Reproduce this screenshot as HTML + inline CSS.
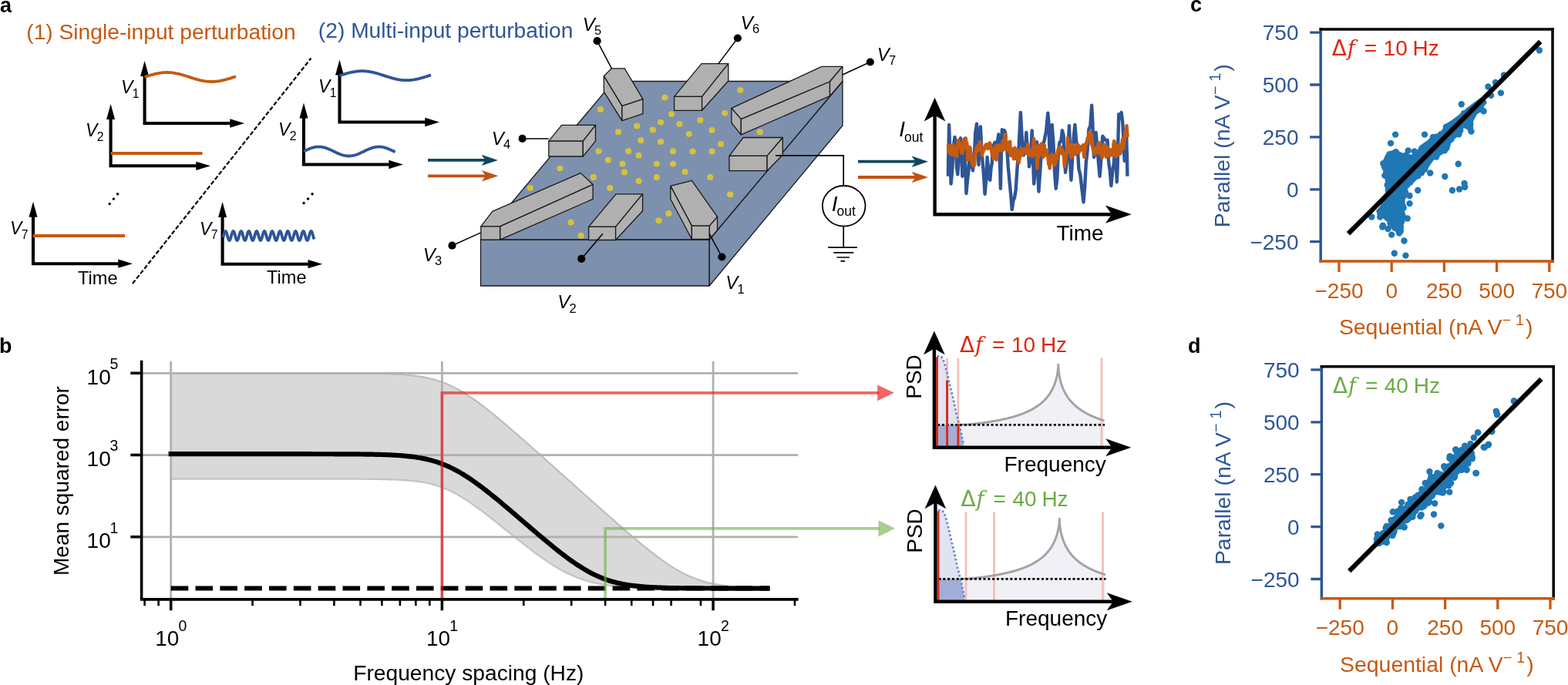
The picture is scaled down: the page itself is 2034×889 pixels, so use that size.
<!DOCTYPE html>
<html><head><meta charset="utf-8"><style>
html,body{margin:0;padding:0;background:#fff;width:2034px;height:889px;overflow:hidden}
svg{display:block}
</style></head><body>
<svg width="2034" height="889" viewBox="0 0 2034 889">
<rect width="2034" height="889" fill="#fff"/>
<text x="0" y="16" font-family="Liberation Sans, sans-serif" font-weight="bold" font-size="27">a</text>
<text x="-1" y="457.7" font-family="Liberation Sans, sans-serif" font-weight="bold" font-size="27">b</text>
<text x="1544" y="15.2" font-family="Liberation Sans, sans-serif" font-weight="bold" font-size="27">c</text>
<text x="1541" y="457.7" font-family="Liberation Sans, sans-serif" font-weight="bold" font-size="27">d</text>
<text x="34.25" y="50.7" font-family="Liberation Sans, sans-serif" font-size="28.2" fill="#C55A11">(1) Single-input perturbation</text>
<text x="412.85" y="48.9" font-family="Liberation Sans, sans-serif" font-size="28.2" fill="#2F5597">(2) Multi-input perturbation</text>
<path d="M187.6,98 L187.6,160 L299.3,160" fill="none" stroke="#000" stroke-width="4.1" stroke-linejoin="miter"/>
<path d="M187.6,79 L182.1,99 L193.1,99Z" fill="#000"/>
<path d="M317,160 L298.3,154.35 L298.3,165.65Z" fill="#000"/>
<path d="M187.60,100.00 L189.08,99.52 L190.56,99.04 L192.04,98.57 L193.52,98.11 L195.00,97.66 L196.48,97.22 L197.96,96.81 L199.44,96.41 L200.92,96.04 L202.40,95.69 L203.88,95.37 L205.36,95.08 L206.84,94.82 L208.32,94.59 L209.80,94.40 L211.28,94.25 L212.76,94.13 L214.24,94.05 L215.72,94.01 L217.20,94.00 L218.68,94.04 L220.16,94.11 L221.64,94.22 L223.12,94.37 L224.60,94.55 L226.08,94.77 L227.56,95.03 L229.04,95.31 L230.52,95.63 L232.00,95.97 L233.48,96.34 L234.96,96.73 L236.44,97.14 L237.92,97.58 L239.40,98.02 L240.88,98.48 L242.36,98.95 L243.84,99.43 L245.32,99.91 L246.80,100.39 L248.28,100.87 L249.76,101.34 L251.24,101.80 L252.72,102.26 L254.20,102.69 L255.68,103.12 L257.16,103.52 L258.64,103.89 L260.12,104.25 L261.60,104.57 L263.08,104.87 L264.56,105.13 L266.04,105.37 L267.52,105.56 L269.00,105.73 L270.48,105.85 L271.96,105.94 L273.44,105.99 L274.92,106.00 L276.40,105.97 L277.88,105.91 L279.36,105.80 L280.84,105.66 L282.32,105.48 L283.80,105.27 L285.28,105.02 L286.76,104.74 L288.24,104.44 L289.72,104.10 L291.20,103.73 L292.68,103.35 L294.16,102.94 L295.64,102.51 L297.12,102.06 L298.60,101.61 L300.08,101.14 L301.56,100.66 L303.04,100.18 L304.52,99.70 L306.00,99.22" fill="none" stroke="#C55A11" stroke-width="3.8"/>
<text x="157" y="121" font-family="Liberation Sans, sans-serif" font-size="23" fill="#000"><tspan font-style="italic">V</tspan><tspan font-size="15.8" dx="-0.5" dy="5.5">1</tspan></text>
<path d="M143.6,154 L143.6,215.3 L255.3,215.3" fill="none" stroke="#000" stroke-width="4.1" stroke-linejoin="miter"/>
<path d="M143.6,135 L138.1,155 L149.1,155Z" fill="#000"/>
<path d="M273,215.3 L254.3,209.65 L254.3,220.95000000000002Z" fill="#000"/>
<path d="M143.6,199 L262.5,199" fill="none" stroke="#C55A11" stroke-width="3.8"/>
<text x="111" y="177" font-family="Liberation Sans, sans-serif" font-size="23" fill="#000"><tspan font-style="italic">V</tspan><tspan font-size="15.8" dx="-0.5" dy="5.5">2</tspan></text>
<path d="M43,280.7 L43,342.2 L154.3,342.2" fill="none" stroke="#000" stroke-width="4.1" stroke-linejoin="miter"/>
<path d="M43,261.7 L37.5,281.7 L48.5,281.7Z" fill="#000"/>
<path d="M172,342.2 L153.3,336.55 L153.3,347.84999999999997Z" fill="#000"/>
<path d="M43,306 L162,306" fill="none" stroke="#C55A11" stroke-width="3.8"/>
<text x="13" y="304" font-family="Liberation Sans, sans-serif" font-size="23" fill="#000"><tspan font-style="italic">V</tspan><tspan font-size="15.8" dx="-0.5" dy="5.5">7</tspan></text>
<text x="101" y="369" font-family="Liberation Sans, sans-serif" font-size="23.6">Time</text>
<path d="M142.2,262.5 L144.29999999999998,264.6 L142.2,266.70000000000005 L140.1,264.6Z" fill="#000"/>
<path d="M147.4,256.09999999999997 L149.5,258.2 L147.4,260.3 L145.3,258.2Z" fill="#000"/>
<path d="M152.6,249.70000000000002 L154.7,251.8 L152.6,253.9 L150.5,251.8Z" fill="#000"/>
<path d="M440.5,96.6 L440.5,158.5 L552.3,158.5" fill="none" stroke="#000" stroke-width="4.1" stroke-linejoin="miter"/>
<path d="M440.5,77.6 L435.0,97.6 L446.0,97.6Z" fill="#000"/>
<path d="M570,158.5 L551.3,152.85 L551.3,164.15Z" fill="#000"/>
<path d="M440.50,98.20 L441.98,97.72 L443.46,97.24 L444.94,96.77 L446.43,96.31 L447.91,95.86 L449.39,95.42 L450.87,95.00 L452.35,94.61 L453.83,94.23 L455.31,93.89 L456.79,93.57 L458.27,93.28 L459.76,93.02 L461.24,92.79 L462.72,92.60 L464.20,92.45 L465.68,92.33 L467.16,92.25 L468.64,92.21 L470.12,92.20 L471.61,92.24 L473.09,92.31 L474.57,92.42 L476.05,92.57 L477.53,92.76 L479.01,92.98 L480.49,93.23 L481.98,93.52 L483.46,93.83 L484.94,94.18 L486.42,94.55 L487.90,94.94 L489.38,95.36 L490.86,95.79 L492.34,96.24 L493.82,96.70 L495.31,97.17 L496.79,97.64 L498.27,98.12 L499.75,98.61 L501.23,99.08 L502.71,99.56 L504.19,100.02 L505.68,100.47 L507.16,100.91 L508.64,101.33 L510.12,101.73 L511.60,102.11 L513.08,102.46 L514.56,102.79 L516.04,103.08 L517.52,103.35 L519.01,103.58 L520.49,103.77 L521.97,103.93 L523.45,104.06 L524.93,104.14 L526.41,104.19 L527.89,104.20 L529.38,104.17 L530.86,104.10 L532.34,104.00 L533.82,103.85 L535.30,103.67 L536.78,103.46 L538.26,103.21 L539.74,102.93 L541.23,102.62 L542.71,102.28 L544.19,101.91 L545.67,101.52 L547.15,101.11 L548.63,100.68 L550.11,100.23 L551.59,99.78 L553.08,99.31 L554.56,98.83 L556.04,98.35 L557.52,97.87 L559.00,97.39" fill="none" stroke="#2F5597" stroke-width="3.8"/>
<text x="413" y="120" font-family="Liberation Sans, sans-serif" font-size="23" fill="#000"><tspan font-style="italic">V</tspan><tspan font-size="15.8" dx="-0.5" dy="5.5">1</tspan></text>
<path d="M394,152.6 L394,213.5 L505.3,213.5" fill="none" stroke="#000" stroke-width="4.1" stroke-linejoin="miter"/>
<path d="M394,133.6 L388.5,153.6 L399.5,153.6Z" fill="#000"/>
<path d="M523,213.5 L504.3,207.85 L504.3,219.15Z" fill="#000"/>
<path d="M394.00,196.50 L395.48,195.79 L396.96,195.08 L398.45,194.40 L399.93,193.74 L401.41,193.13 L402.89,192.56 L404.38,192.05 L405.86,191.60 L407.34,191.22 L408.82,190.92 L410.31,190.70 L411.79,190.56 L413.27,190.50 L414.75,190.53 L416.24,190.65 L417.72,190.84 L419.20,191.12 L420.69,191.48 L422.17,191.90 L423.65,192.40 L425.13,192.95 L426.62,193.55 L428.10,194.19 L429.58,194.87 L431.06,195.57 L432.55,196.28 L434.03,197.00 L435.51,197.70 L436.99,198.40 L438.48,199.06 L439.96,199.69 L441.44,200.27 L442.92,200.80 L444.41,201.27 L445.89,201.67 L447.37,201.99 L448.85,202.24 L450.34,202.41 L451.82,202.49 L453.30,202.49 L454.78,202.40 L456.26,202.23 L457.75,201.97 L459.23,201.64 L460.71,201.23 L462.20,200.76 L463.68,200.23 L465.16,199.64 L466.64,199.01 L468.12,198.34 L469.61,197.65 L471.09,196.94 L472.57,196.22 L474.06,195.51 L475.54,194.81 L477.02,194.14 L478.50,193.50 L479.99,192.90 L481.47,192.35 L482.95,191.87 L484.43,191.45 L485.92,191.10 L487.40,190.82 L488.88,190.63 L490.36,190.53 L491.85,190.50 L493.33,190.56 L494.81,190.71 L496.29,190.94 L497.78,191.25 L499.26,191.63 L500.74,192.09 L502.22,192.60 L503.71,193.17 L505.19,193.79 L506.67,194.45 L508.15,195.14 L509.63,195.84 L511.12,196.56 L512.60,197.27" fill="none" stroke="#2F5597" stroke-width="3.8"/>
<text x="361" y="176" font-family="Liberation Sans, sans-serif" font-size="23" fill="#000"><tspan font-style="italic">V</tspan><tspan font-size="15.8" dx="-0.5" dy="5.5">2</tspan></text>
<path d="M288.6,281 L288.6,342.7 L400.5,342.7" fill="none" stroke="#000" stroke-width="4.1" stroke-linejoin="miter"/>
<path d="M288.6,262 L283.1,282 L294.1,282Z" fill="#000"/>
<path d="M418.2,342.7 L399.5,337.05 L399.5,348.34999999999997Z" fill="#000"/>
<path d="M289.40,308.10 L289.70,307.04 L289.99,305.94 L290.29,304.85 L290.58,303.79 L290.88,302.81 L291.17,301.94 L291.47,301.20 L291.76,300.62 L292.06,300.23 L292.35,300.03 L292.65,300.03 L292.94,300.23 L293.24,300.62 L293.53,301.20 L293.83,301.94 L294.12,302.81 L294.42,303.79 L294.71,304.85 L295.01,305.94 L295.30,307.04 L295.60,308.10 L295.90,309.09 L296.19,309.98 L296.49,310.73 L296.78,311.33 L297.08,311.74 L297.37,311.96 L297.67,311.98 L297.96,311.80 L298.26,311.43 L298.55,310.87 L298.85,310.15 L299.14,309.29 L299.44,308.31 L299.73,307.26 L300.03,306.17 L300.32,305.07 L300.62,304.01 L300.91,303.01 L301.21,302.11 L301.51,301.34 L301.80,300.73 L302.10,300.29 L302.39,300.05 L302.69,300.01 L302.98,300.17 L303.28,300.52 L303.57,301.06 L303.87,301.77 L304.16,302.62 L304.46,303.58 L304.75,304.62 L305.05,305.71 L305.34,306.81 L305.64,307.89 L305.93,308.89 L306.23,309.81 L306.52,310.59 L306.82,311.22 L307.12,311.67 L307.41,311.93 L307.71,312.00 L308.00,311.86 L308.30,311.52 L308.59,311.00 L308.89,310.31 L309.18,309.48 L309.48,308.52 L309.77,307.49 L310.07,306.40 L310.36,305.30 L310.66,304.22 L310.95,303.21 L311.25,302.28 L311.54,301.49 L311.84,300.84 L312.13,300.37 L312.43,300.08 L312.72,300.00 L313.02,300.12 L313.32,300.43 L313.61,300.94 L313.91,301.61 L314.20,302.43 L314.50,303.37 L314.79,304.40 L315.09,305.48 L315.38,306.59 L315.68,307.67 L315.97,308.69 L316.27,309.62 L316.56,310.44 L316.86,311.10 L317.15,311.59 L317.45,311.89 L317.74,312.00 L318.04,311.90 L318.33,311.61 L318.63,311.12 L318.92,310.47 L319.22,309.66 L319.52,308.73 L319.81,307.71 L320.11,306.63 L320.40,305.53 L320.70,304.44 L320.99,303.41 L321.29,302.47 L321.58,301.64 L321.88,300.96 L322.17,300.45 L322.47,300.13 L322.76,300.00 L323.06,300.08 L323.35,300.35 L323.65,300.82 L323.94,301.46 L324.24,302.25 L324.53,303.17 L324.83,304.18 L325.13,305.26 L325.42,306.36 L325.72,307.44 L326.01,308.48 L326.31,309.44 L326.60,310.28 L326.90,310.98 L327.19,311.50 L327.49,311.85 L327.78,311.99 L328.08,311.94 L328.37,311.69 L328.67,311.24 L328.96,310.62 L329.26,309.84 L329.55,308.93 L329.85,307.93 L330.14,306.86 L330.44,305.76 L330.74,304.67 L331.03,303.62 L331.33,302.66 L331.62,301.80 L331.92,301.09 L332.21,300.54 L332.51,300.18 L332.80,300.01 L333.10,300.05 L333.39,300.28 L333.69,300.71 L333.98,301.31 L334.28,302.07 L334.57,302.97 L334.87,303.96 L335.16,305.03 L335.46,306.13 L335.75,307.22 L336.05,308.27 L336.34,309.25 L336.64,310.12 L336.94,310.84 L337.23,311.41 L337.53,311.79 L337.82,311.98 L338.12,311.97 L338.41,311.75 L338.71,311.35 L339.00,310.76 L339.30,310.01 L339.59,309.13 L339.89,308.14 L340.18,307.08 L340.48,305.99 L340.77,304.89 L341.07,303.83 L341.36,302.85 L341.66,301.97 L341.95,301.22 L342.25,300.64 L342.54,300.24 L342.84,300.03 L343.14,300.02 L343.43,300.21 L343.73,300.60 L344.02,301.17 L344.32,301.90 L344.61,302.77 L344.91,303.75 L345.20,304.80 L345.50,305.90 L345.79,306.99 L346.09,308.06 L346.38,309.05 L346.68,309.95 L346.97,310.70 L347.27,311.31 L347.56,311.73 L347.86,311.96 L348.15,311.99 L348.45,311.82 L348.75,311.45 L349.04,310.90 L349.34,310.18 L349.63,309.32 L349.93,308.36 L350.22,307.31 L350.52,306.22 L350.81,305.12 L351.11,304.05 L351.40,303.05 L351.70,302.14 L351.99,301.37 L352.29,300.75 L352.58,300.31 L352.88,300.06 L353.17,300.01 L353.47,300.16 L353.76,300.51 L354.06,301.04 L354.36,301.74 L354.65,302.58 L354.95,303.54 L355.24,304.58 L355.54,305.67 L355.83,306.77 L356.13,307.84 L356.42,308.85 L356.72,309.77 L357.01,310.56 L357.31,311.19 L357.60,311.66 L357.90,311.93 L358.19,312.00 L358.49,311.87 L358.78,311.54 L359.08,311.03 L359.37,310.34 L359.67,309.51 L359.96,308.57 L360.26,307.53 L360.56,306.45 L360.85,305.35 L361.15,304.27 L361.44,303.25 L361.74,302.32 L362.03,301.52 L362.33,300.86 L362.62,300.38 L362.92,300.09 L363.21,300.00 L363.51,300.11 L363.80,300.42 L364.10,300.91 L364.39,301.58 L364.69,302.39 L364.98,303.33 L365.28,304.36 L365.57,305.44 L365.87,306.54 L366.16,307.62 L366.46,308.65 L366.76,309.59 L367.05,310.41 L367.35,311.08 L367.64,311.57 L367.94,311.89 L368.23,312.00 L368.53,311.91 L368.82,311.62 L369.12,311.15 L369.41,310.50 L369.71,309.70 L370.00,308.77 L370.30,307.75 L370.59,306.68 L370.89,305.57 L371.18,304.49 L371.48,303.45 L371.77,302.50 L372.07,301.67 L372.37,300.99 L372.66,300.47 L372.96,300.14 L373.25,300.00 L373.55,300.07 L373.84,300.34 L374.14,300.79 L374.43,301.43 L374.73,302.21 L375.02,303.13 L375.32,304.14 L375.61,305.21 L375.91,306.31 L376.20,307.40 L376.50,308.44 L376.79,309.40 L377.09,310.25 L377.38,310.95 L377.68,311.49 L377.98,311.84 L378.27,311.99 L378.57,311.95 L378.86,311.70 L379.16,311.26 L379.45,310.65 L379.75,309.87 L380.04,308.97 L380.34,307.97 L380.63,306.90 L380.93,305.80 L381.22,304.71 L381.52,303.66 L381.81,302.69 L382.11,301.83 L382.40,301.12 L382.70,300.56 L382.99,300.19 L383.29,300.01 L383.58,300.04 L383.88,300.27 L384.18,300.68 L384.47,301.28 L384.77,302.04 L385.06,302.93 L385.36,303.92 L385.65,304.98 L385.95,306.08 L386.24,307.18 L386.54,308.23 L386.83,309.21 L387.13,310.08 L387.42,310.82 L387.72,311.39 L388.01,311.78 L388.31,311.98 L388.60,311.97 L388.90,311.77 L389.19,311.37 L389.49,310.79 L389.78,310.05 L390.08,309.17 L390.38,308.19 L390.67,307.13 L390.97,306.03 L391.26,304.94 L391.56,303.88 L391.85,302.89 L392.15,302.00 L392.44,301.25 L392.74,300.66 L393.03,300.25 L393.33,300.03 L393.62,300.02 L393.92,300.20 L394.21,300.58 L394.51,301.14 L394.80,301.87 L395.10,302.73 L395.39,303.71 L395.69,304.76 L395.99,305.85 L396.28,306.95 L396.58,308.02 L396.87,309.01 L397.17,309.91 L397.46,310.68 L397.76,311.28 L398.05,311.71 L398.35,311.95 L398.64,311.99 L398.94,311.83 L399.23,311.47 L399.53,310.92 L399.82,310.21 L400.12,309.36 L400.41,308.40 L400.71,307.35 L401.00,306.26 L401.30,305.16 L401.60,304.09 L401.89,303.09 L402.19,302.18 L402.48,301.40 L402.78,300.77 L403.07,300.32 L403.37,300.06 L403.66,300.00 L403.96,300.15 L404.25,300.49 L404.55,301.01 L404.84,301.71 L405.14,302.54 L405.43,303.50 L405.73,304.53 L406.02,305.62 L406.32,306.72 L406.61,307.80 L406.91,308.81 L407.20,309.73 L407.50,310.53" fill="none" stroke="#2F5597" stroke-width="3.8"/>
<text x="259" y="304.6" font-family="Liberation Sans, sans-serif" font-size="23" fill="#000"><tspan font-style="italic">V</tspan><tspan font-size="15.8" dx="-0.5" dy="5.5">7</tspan></text>
<text x="346" y="368" font-family="Liberation Sans, sans-serif" font-size="23.6">Time</text>
<path d="M394.1,261.5 L396.20000000000005,263.6 L394.1,265.70000000000005 L392.0,263.6Z" fill="#000"/>
<path d="M399.6,256.0 L401.70000000000005,258.1 L399.6,260.20000000000005 L397.5,258.1Z" fill="#000"/>
<path d="M405.1,249.70000000000002 L407.20000000000005,251.8 L405.1,253.9 L403.0,251.8Z" fill="#000"/>
<path d="M172,368 L403.5,75.5" stroke="#000" stroke-width="2.2" stroke-dasharray="5.6,2.6" fill="none"/>
<polygon points="623.5,311 920.2,311 920.2,371 623.5,371" fill="#7D90AE" stroke="#1a1a1a" stroke-width="1.3" stroke-linejoin="round"/>
<polygon points="920.2,311 1093,105.5 1093,163 920.2,371" fill="#7D90AE" stroke="#1a1a1a" stroke-width="1.3" stroke-linejoin="round"/>
<polygon points="796,105.5 1093,105.5 920.2,311 623.5,311" fill="#7D90AE" stroke="#1a1a1a" stroke-width="1.3" stroke-linejoin="round"/>
<ellipse cx="779.0" cy="141.9" rx="4.1" ry="3.9" fill="#D4C23C"/>
<ellipse cx="862.4" cy="126.5" rx="4.1" ry="3.9" fill="#D4C23C"/>
<ellipse cx="871.0" cy="148.1" rx="4.1" ry="3.9" fill="#D4C23C"/>
<ellipse cx="857.0" cy="158.6" rx="4.1" ry="3.9" fill="#D4C23C"/>
<ellipse cx="881.4" cy="160.8" rx="4.1" ry="3.9" fill="#D4C23C"/>
<ellipse cx="826.1" cy="163.5" rx="4.1" ry="3.9" fill="#D4C23C"/>
<ellipse cx="846.8" cy="168.4" rx="4.1" ry="3.9" fill="#D4C23C"/>
<ellipse cx="802.1" cy="171.2" rx="4.1" ry="3.9" fill="#D4C23C"/>
<ellipse cx="893.8" cy="173.8" rx="4.1" ry="3.9" fill="#D4C23C"/>
<ellipse cx="831.3" cy="182.2" rx="4.1" ry="3.9" fill="#D4C23C"/>
<ellipse cx="857.0" cy="183.9" rx="4.1" ry="3.9" fill="#D4C23C"/>
<ellipse cx="776.5" cy="196.2" rx="4.1" ry="3.9" fill="#D4C23C"/>
<ellipse cx="815.3" cy="196.2" rx="4.1" ry="3.9" fill="#D4C23C"/>
<ellipse cx="873.0" cy="196.2" rx="4.1" ry="3.9" fill="#D4C23C"/>
<ellipse cx="898.5" cy="196.4" rx="4.1" ry="3.9" fill="#D4C23C"/>
<ellipse cx="828.6" cy="201.7" rx="4.1" ry="3.9" fill="#D4C23C"/>
<ellipse cx="788.9" cy="207.7" rx="4.1" ry="3.9" fill="#D4C23C"/>
<ellipse cx="807.5" cy="212.6" rx="4.1" ry="3.9" fill="#D4C23C"/>
<ellipse cx="851.9" cy="212.6" rx="4.1" ry="3.9" fill="#D4C23C"/>
<ellipse cx="873.0" cy="212.6" rx="4.1" ry="3.9" fill="#D4C23C"/>
<ellipse cx="726.3" cy="218.6" rx="4.1" ry="3.9" fill="#D4C23C"/>
<ellipse cx="810.0" cy="223.5" rx="4.1" ry="3.9" fill="#D4C23C"/>
<ellipse cx="888.7" cy="222.9" rx="4.1" ry="3.9" fill="#D4C23C"/>
<ellipse cx="769.7" cy="230" rx="4.1" ry="3.9" fill="#D4C23C"/>
<ellipse cx="851.9" cy="230" rx="4.1" ry="3.9" fill="#D4C23C"/>
<ellipse cx="828.6" cy="234.8" rx="4.1" ry="3.9" fill="#D4C23C"/>
<ellipse cx="791.2" cy="244" rx="4.1" ry="3.9" fill="#D4C23C"/>
<ellipse cx="960.4" cy="116.9" rx="4.1" ry="3.9" fill="#D4C23C"/>
<ellipse cx="940.2" cy="146.8" rx="4.1" ry="3.9" fill="#D4C23C"/>
<ellipse cx="908.4" cy="156" rx="4.1" ry="3.9" fill="#D4C23C"/>
<ellipse cx="923.6" cy="168.9" rx="4.1" ry="3.9" fill="#D4C23C"/>
<ellipse cx="985.7" cy="171.2" rx="4.1" ry="3.9" fill="#D4C23C"/>
<ellipse cx="935.1" cy="186.9" rx="4.1" ry="3.9" fill="#D4C23C"/>
<ellipse cx="923.6" cy="196.5" rx="4.1" ry="3.9" fill="#D4C23C"/>
<ellipse cx="921.1" cy="230" rx="4.1" ry="3.9" fill="#D4C23C"/>
<ellipse cx="947.1" cy="252.5" rx="4.1" ry="3.9" fill="#D4C23C"/>
<ellipse cx="687.8" cy="243.9" rx="4.1" ry="3.9" fill="#D4C23C"/>
<ellipse cx="867.4" cy="277" rx="4.1" ry="3.9" fill="#D4C23C"/>
<ellipse cx="854.5" cy="286.2" rx="4.1" ry="3.9" fill="#D4C23C"/>
<ellipse cx="740.5" cy="288.5" rx="4.1" ry="3.9" fill="#D4C23C"/>
<ellipse cx="753.6" cy="305.7" rx="4.1" ry="3.9" fill="#D4C23C"/>
<polygon points="793.4,88.8 810.3,88.8 833.9,128.6 806.9,137.6 783.3,98.7" fill="#B0B0B0" stroke="#1a1a1a" stroke-width="1.3" stroke-linejoin="round"/>
<polygon points="783.3,98.7 806.9,137.6 806.9,156.7 783.3,118.9" fill="#B0B0B0" stroke="#1a1a1a" stroke-width="1.3" stroke-linejoin="round"/>
<polygon points="806.9,137.6 833.9,128.6 833.9,147.7 806.9,156.7" fill="#B0B0B0" stroke="#1a1a1a" stroke-width="1.3" stroke-linejoin="round"/>
<polygon points="711.8,183.2 728.6,162.3 772.5,162.3 756.3,183.2" fill="#B0B0B0" stroke="#1a1a1a" stroke-width="1.3" stroke-linejoin="round"/>
<polygon points="711.8,183.2 756.3,183.2 756.3,203 711.8,203" fill="#B0B0B0" stroke="#1a1a1a" stroke-width="1.3" stroke-linejoin="round"/>
<polygon points="756.3,183.2 772.5,162.3 772.5,183.2 756.3,203" fill="#B0B0B0" stroke="#1a1a1a" stroke-width="1.3" stroke-linejoin="round"/>
<polygon points="874.6,125.3 910,82.6 944.8,82.6 910.6,125.3" fill="#B0B0B0" stroke="#1a1a1a" stroke-width="1.3" stroke-linejoin="round"/>
<polygon points="874.6,125.3 910.6,125.3 910.6,143.3 874.6,143.3" fill="#B0B0B0" stroke="#1a1a1a" stroke-width="1.3" stroke-linejoin="round"/>
<polygon points="910.6,125.3 944.8,82.6 944.8,105 910.6,143.3" fill="#B0B0B0" stroke="#1a1a1a" stroke-width="1.3" stroke-linejoin="round"/>
<polygon points="948.9,140.4 1065.9,86.4 1092.9,86.4 1076.5,106 961.3,154.6" fill="#B0B0B0" stroke="#1a1a1a" stroke-width="1.3" stroke-linejoin="round"/>
<polygon points="948.9,140.4 961.3,154.6 961.3,174.8 948.9,159.5" fill="#B0B0B0" stroke="#1a1a1a" stroke-width="1.3" stroke-linejoin="round"/>
<polygon points="961.3,154.6 1076.5,106 1076.5,124.6 961.3,174.8" fill="#B0B0B0" stroke="#1a1a1a" stroke-width="1.3" stroke-linejoin="round"/>
<polygon points="1076.5,106 1092.9,86.4 1092.9,105.5 1076.5,124.6" fill="#B0B0B0" stroke="#1a1a1a" stroke-width="1.3" stroke-linejoin="round"/>
<polygon points="946,202.3 964.1,178.5 1015.3,178.5 995.1,202.3" fill="#B0B0B0" stroke="#1a1a1a" stroke-width="1.3" stroke-linejoin="round"/>
<polygon points="946,202.3 995.1,202.3 995.1,221.7 946,221.7" fill="#B0B0B0" stroke="#1a1a1a" stroke-width="1.3" stroke-linejoin="round"/>
<polygon points="995.1,202.3 1015.3,178.5 1015.3,201 995.1,221.7" fill="#B0B0B0" stroke="#1a1a1a" stroke-width="1.3" stroke-linejoin="round"/>
<polygon points="623.8,293.9 638.7,274.3 753.2,224.6 769.1,239.5 648.6,293.9" fill="#B0B0B0" stroke="#1a1a1a" stroke-width="1.3" stroke-linejoin="round"/>
<polygon points="648.6,293.9 769.1,239.5 769.1,258.4 648.6,311.1" fill="#B0B0B0" stroke="#1a1a1a" stroke-width="1.3" stroke-linejoin="round"/>
<polygon points="623.8,293.9 648.6,293.9 648.6,311.1 623.8,311.1" fill="#B0B0B0" stroke="#1a1a1a" stroke-width="1.3" stroke-linejoin="round"/>
<polygon points="763.6,294.3 799.1,251.8 833.6,251.8 798.6,294.3" fill="#B0B0B0" stroke="#1a1a1a" stroke-width="1.3" stroke-linejoin="round"/>
<polygon points="763.6,294.3 798.6,294.3 798.6,311.5 763.6,311.5" fill="#B0B0B0" stroke="#1a1a1a" stroke-width="1.3" stroke-linejoin="round"/>
<polygon points="798.6,294.3 833.6,251.8 833.6,273.8 798.6,311.5" fill="#B0B0B0" stroke="#1a1a1a" stroke-width="1.3" stroke-linejoin="round"/>
<polygon points="869.8,241.4 897.4,234.4 930.5,281.3 920.4,293.1 897.4,293.1" fill="#B0B0B0" stroke="#1a1a1a" stroke-width="1.3" stroke-linejoin="round"/>
<polygon points="869.8,241.4 897.4,293.1 897.4,310.5 869.8,258.2" fill="#B0B0B0" stroke="#1a1a1a" stroke-width="1.3" stroke-linejoin="round"/>
<polygon points="897.4,293.1 920.4,293.1 920.4,310.5 897.4,310.5" fill="#B0B0B0" stroke="#1a1a1a" stroke-width="1.3" stroke-linejoin="round"/>
<polygon points="920.4,293.1 930.5,281.3 930.5,298.7 920.4,310.5" fill="#B0B0B0" stroke="#1a1a1a" stroke-width="1.3" stroke-linejoin="round"/>
<line x1="793.4" y1="88.8" x2="774.6" y2="53.2" stroke="#000" stroke-width="1.5"/>
<circle cx="774.6" cy="53.2" r="5.1" fill="#000"/>
<line x1="711.8" y1="179.9" x2="677.6" y2="179.9" stroke="#000" stroke-width="1.5"/>
<circle cx="677.6" cy="179.9" r="5.1" fill="#000"/>
<line x1="932" y1="82.6" x2="956.9" y2="49.5" stroke="#000" stroke-width="1.5"/>
<circle cx="956.9" cy="49.5" r="5.1" fill="#000"/>
<line x1="1092.9" y1="97" x2="1128.8" y2="80.5" stroke="#000" stroke-width="1.5"/>
<circle cx="1128.8" cy="80.5" r="5.1" fill="#000"/>
<line x1="623.3" y1="302.1" x2="586.5" y2="318.7" stroke="#000" stroke-width="1.5"/>
<circle cx="586.5" cy="318.7" r="5.1" fill="#000"/>
<line x1="782" y1="303.3" x2="754.2" y2="335.9" stroke="#000" stroke-width="1.5"/>
<circle cx="754.2" cy="335.9" r="5.1" fill="#000"/>
<line x1="920.1" y1="303.2" x2="936.4" y2="333.5" stroke="#000" stroke-width="1.5"/>
<circle cx="936.4" cy="333.5" r="5.1" fill="#000"/>
<path d="M1006,201.8 L1094.2,201.8 L1094.2,241 M1094.2,293.6 L1094.2,321.2" fill="none" stroke="#000" stroke-width="1.7"/>
<ellipse cx="1094.7" cy="267.3" rx="27.8" ry="26.3" fill="#fff" stroke="#000" stroke-width="1.8"/>
<path d="M1074.2,321.2 L1112,321.2 M1081.3,327.9 L1107.3,327.9 M1085.5,334 L1101.9,334 M1090.4,338.8 L1096.1,338.8" stroke="#000" stroke-width="1.7" fill="none"/>
<text x="1078.7" y="273.8" font-family="Liberation Sans, sans-serif" font-size="28"><tspan font-style="italic">I</tspan><tspan font-size="17.5" dy="5.8" dx="-0.9">out</tspan></text>
<text x="755.7" y="39.7" font-family="Liberation Sans, sans-serif" font-size="24" fill="#000"><tspan font-style="italic">V</tspan><tspan font-size="16.5" dx="-0.6" dy="5.4">5</tspan></text>
<text x="960.7" y="37.7" font-family="Liberation Sans, sans-serif" font-size="24" fill="#000"><tspan font-style="italic">V</tspan><tspan font-size="16.5" dx="-0.6" dy="5.4">6</tspan></text>
<text x="1137.7" y="78.9" font-family="Liberation Sans, sans-serif" font-size="24" fill="#000"><tspan font-style="italic">V</tspan><tspan font-size="16.5" dx="-0.6" dy="5.4">7</tspan></text>
<text x="637.7" y="187.5" font-family="Liberation Sans, sans-serif" font-size="24" fill="#000"><tspan font-style="italic">V</tspan><tspan font-size="16.5" dx="-0.6" dy="5.4">4</tspan></text>
<text x="548.7" y="338.8" font-family="Liberation Sans, sans-serif" font-size="24" fill="#000"><tspan font-style="italic">V</tspan><tspan font-size="16.5" dx="-0.6" dy="5.4">3</tspan></text>
<text x="723.2" y="400.2" font-family="Liberation Sans, sans-serif" font-size="24" fill="#000"><tspan font-style="italic">V</tspan><tspan font-size="16.5" dx="-0.6" dy="5.4">2</tspan></text>
<text x="941.2" y="375.2" font-family="Liberation Sans, sans-serif" font-size="24" fill="#000"><tspan font-style="italic">V</tspan><tspan font-size="16.5" dx="-0.6" dy="5.4">1</tspan></text>
<line x1="555" y1="207.9" x2="630.6" y2="207.9" stroke="#12465F" stroke-width="3.8"/><path d="M646,207.9 L624.6,200.70000000000002 L629.6,207.9 L624.6,215.1Z" fill="#12465F"/>
<line x1="555" y1="228.3" x2="630.9" y2="228.3" stroke="#C15214" stroke-width="3.8"/><path d="M646.3,228.3 L624.9,221.10000000000002 L629.9,228.3 L624.9,235.5Z" fill="#C15214"/>
<line x1="1113" y1="209.7" x2="1188.6" y2="209.7" stroke="#12465F" stroke-width="3.8"/><path d="M1204,209.7 L1182.6,202.5 L1187.6,209.7 L1182.6,216.89999999999998Z" fill="#12465F"/>
<line x1="1113" y1="230" x2="1188.6" y2="230" stroke="#C15214" stroke-width="3.8"/><path d="M1204,230 L1182.6,222.8 L1187.6,230 L1182.6,237.2Z" fill="#C15214"/>
<path d="M1229.9,228.8 L1230.3,201.2 L1230.7,185.1 L1231.1,162.0 L1231.9,184.9 L1232.8,215.2 L1233.6,238.6 L1235.2,221.0 L1236.9,189.6 L1238.5,178.0 L1239.8,184.4 L1241.0,216.9 L1242.3,226.3 L1243.5,205.8 L1244.7,189.6 L1246.0,179.3 L1246.8,205.7 L1247.6,211.7 L1248.4,228.8 L1249.3,219.4 L1250.1,196.1 L1250.9,180.5 L1251.7,206.8 L1252.6,220.5 L1253.4,251.0 L1255.0,233.9 L1256.7,218.8 L1258.3,191.6 L1259.6,202.0 L1260.8,216.3 L1262.0,221.3 L1263.7,204.6 L1265.3,172.2 L1267.0,160.7 L1267.8,183.6 L1268.6,198.0 L1269.5,213.9 L1270.3,193.4 L1271.1,171.5 L1271.9,164.4 L1273.8,200.9 L1275.7,222.1 L1277.6,251.8 L1278.6,240.2 L1279.6,227.5 L1280.6,204.0 L1281.8,218.2 L1283.1,232.2 L1284.3,233.7 L1285.6,217.6 L1286.8,211.7 L1288.0,191.6 L1290.5,184.8 L1293.0,188.8 L1295.4,174.3 L1296.3,205.4 L1297.1,213.3 L1297.9,244.8 L1298.6,212.0 L1299.2,188.0 L1299.9,168.1 L1301.3,178.7 L1302.7,169.3 L1304.1,171.9 L1305.3,189.2 L1306.6,197.6 L1307.8,216.4 L1309.5,235.1 L1311.1,251.2 L1312.8,272.0 L1314.4,260.4 L1316.1,256.4 L1317.7,246.1 L1319.8,214.4 L1321.8,187.4 L1323.9,145.9 L1325.1,168.1 L1326.4,191.6 L1327.6,201.5 L1328.8,198.8 L1330.1,191.6 L1331.3,171.9 L1332.6,190.1 L1333.8,194.8 L1335.0,216.4 L1336.3,207.9 L1337.5,194.3 L1338.7,169.4 L1339.6,200.6 L1340.4,216.9 L1341.2,238.6 L1342.5,224.8 L1343.7,196.6 L1344.9,184.2 L1345.8,212.3 L1346.6,228.6 L1347.4,248.5 L1349.1,224.5 L1350.7,200.2 L1352.4,189.2 L1354.7,182.1 L1357.0,170.6 L1359.3,146.6 L1360.3,157.5 L1361.3,190.9 L1362.2,204.0 L1363.1,188.2 L1363.9,169.0 L1364.7,162.0 L1366.4,185.5 L1368.0,222.6 L1369.7,244.8 L1371.3,232.1 L1373.0,195.3 L1374.6,184.2 L1376.3,183.6 L1377.9,169.3 L1379.6,175.6 L1380.4,196.0 L1381.2,204.3 L1382.0,223.8 L1383.7,211.2 L1385.3,193.0 L1387.0,163.2 L1387.8,186.8 L1388.6,220.2 L1389.5,233.7 L1391.1,206.0 L1392.8,177.4 L1394.4,162.0 L1396.1,182.9 L1397.7,190.5 L1399.4,218.9 L1401.4,227.2 L1403.5,245.9 L1405.5,262.2 L1407.2,242.5 L1408.8,211.6 L1410.5,196.6 L1412.4,167.5 L1414.3,164.0 L1416.2,136.7 L1417.2,155.4 L1418.2,190.8 L1419.1,204.0 L1420.0,201.2 L1420.8,180.1 L1421.6,171.9 L1423.3,190.0 L1424.9,210.2 L1426.6,228.8 L1427.8,214.3 L1429.0,196.0 L1430.3,176.8 L1432.3,179.6 L1434.4,182.5 L1436.5,181.7 L1438.1,210.4 L1439.8,221.5 L1441.4,241.1 L1443.1,223.3 L1444.7,212.5 L1446.4,191.6 L1447.2,201.2 L1448.0,217.4 L1448.8,236.2 L1449.7,216.5 L1450.5,178.0 L1451.3,148.3 L1453.0,153.0 L1454.6,146.0 L1456.3,159.5 L1457.1,174.3 L1457.9,194.1 L1458.7,209.0 L1459.6,186.6 L1460.4,185.7 L1461.2,170.6 L1461.6,192.6 L1462.0,200.6 L1462.4,228.8" fill="none" stroke="#2F5597" stroke-width="4.4" stroke-linejoin="round"/>
<path d="M1230.0,186.8 L1230.7,194.6 L1231.4,198.7 L1232.1,193.5 L1232.8,189.8 L1233.5,197.6 L1234.2,200.7 L1235.0,200.5 L1235.7,190.6 L1236.4,188.2 L1237.1,195.8 L1237.8,195.8 L1238.5,201.4 L1239.2,200.0 L1239.9,195.3 L1240.6,191.9 L1241.3,203.0 L1242.0,187.1 L1242.7,184.5 L1243.5,182.0 L1244.2,188.2 L1244.9,188.0 L1245.6,186.3 L1246.3,190.7 L1247.0,194.2 L1247.7,198.8 L1248.4,198.6 L1249.1,193.7 L1249.8,183.1 L1250.5,193.5 L1251.2,182.7 L1252.0,185.5 L1252.7,179.4 L1253.4,187.4 L1254.1,185.3 L1254.8,191.2 L1255.5,207.7 L1256.2,192.5 L1256.9,197.9 L1257.6,191.1 L1258.3,195.0 L1259.0,202.4 L1259.7,202.3 L1260.5,210.0 L1261.2,212.1 L1261.9,208.9 L1262.6,215.1 L1263.3,203.9 L1264.0,214.3 L1264.7,199.5 L1265.4,202.2 L1266.1,193.2 L1266.8,196.6 L1267.5,189.9 L1268.2,195.3 L1269.0,189.4 L1269.7,191.8 L1270.4,187.0 L1271.1,185.4 L1271.8,184.2 L1272.5,195.0 L1273.2,194.2 L1273.9,201.8 L1274.6,192.0 L1275.3,197.2 L1276.0,192.7 L1276.7,193.9 L1277.4,193.3 L1278.2,189.7 L1278.9,187.9 L1279.6,187.9 L1280.3,187.5 L1281.0,190.1 L1281.7,192.9 L1282.4,190.0 L1283.1,188.2 L1283.8,185.5 L1284.5,186.9 L1285.2,191.5 L1285.9,191.6 L1286.7,200.1 L1287.4,195.0 L1288.1,193.4 L1288.8,206.0 L1289.5,196.5 L1290.2,197.8 L1290.9,197.5 L1291.6,189.2 L1292.3,207.2 L1293.0,204.0 L1293.7,194.4 L1294.4,196.4 L1295.2,196.1 L1295.9,188.2 L1296.6,190.6 L1297.3,192.4 L1298.0,195.2 L1298.7,193.2 L1299.4,190.1 L1300.1,195.5 L1300.8,183.3 L1301.5,191.0 L1302.2,193.7 L1302.9,186.8 L1303.7,174.2 L1304.4,176.3 L1305.1,186.5 L1305.8,189.8 L1306.5,195.2 L1307.2,185.6 L1307.9,193.7 L1308.6,196.5 L1309.3,194.1 L1310.0,183.7 L1310.7,195.8 L1311.4,202.0 L1312.2,197.8 L1312.9,193.2 L1313.6,194.9 L1314.3,196.6 L1315.0,206.1 L1315.7,197.9 L1316.4,191.9 L1317.1,200.1 L1317.8,195.1 L1318.5,206.3 L1319.2,194.8 L1319.9,199.8 L1320.7,207.0 L1321.4,211.7 L1322.1,205.5 L1322.8,205.7 L1323.5,194.6 L1324.2,198.4 L1324.9,198.3 L1325.6,198.8 L1326.3,200.6 L1327.0,193.7 L1327.7,195.8 L1328.4,194.8 L1329.1,193.2 L1329.9,196.2 L1330.6,197.4 L1331.3,198.7 L1332.0,192.4 L1332.7,191.9 L1333.4,187.1 L1334.1,201.3 L1334.8,201.7 L1335.5,196.9 L1336.2,194.8 L1336.9,195.7 L1337.6,198.6 L1338.4,197.4 L1339.1,202.9 L1339.8,193.8 L1340.5,188.3 L1341.2,180.1 L1341.9,200.9 L1342.6,197.2 L1343.3,190.2 L1344.0,200.0 L1344.7,189.8 L1345.4,218.5 L1346.1,202.8 L1346.9,201.0 L1347.6,195.4 L1348.3,188.5 L1349.0,195.4 L1349.7,189.7 L1350.4,200.6 L1351.1,186.5 L1351.8,191.9 L1352.5,200.3 L1353.2,204.0 L1353.9,190.4 L1354.6,188.4 L1355.4,201.5 L1356.1,201.1 L1356.8,194.4 L1357.5,197.4 L1358.2,201.2 L1358.9,201.5 L1359.6,204.6 L1360.3,213.0 L1361.0,211.0 L1361.7,218.3 L1362.4,206.4 L1363.1,208.3 L1363.9,200.5 L1364.6,205.9 L1365.3,204.0 L1366.0,201.2 L1366.7,210.9 L1367.4,214.2 L1368.1,209.5 L1368.8,212.1 L1369.5,210.6 L1370.2,202.2 L1370.9,206.7 L1371.6,201.5 L1372.3,195.0 L1373.1,194.2 L1373.8,191.4 L1374.5,193.7 L1375.2,193.0 L1375.9,190.9 L1376.6,198.8 L1377.3,193.9 L1378.0,195.7 L1378.7,200.3 L1379.4,200.2 L1380.1,199.4 L1380.8,216.1 L1381.6,208.1 L1382.3,208.8 L1383.0,197.9 L1383.7,199.7 L1384.4,197.1 L1385.1,178.8 L1385.8,190.5 L1386.5,186.0 L1387.2,190.7 L1387.9,192.9 L1388.6,199.1 L1389.3,202.1 L1390.1,204.4 L1390.8,187.7 L1391.5,195.6 L1392.2,188.8 L1392.9,197.7 L1393.6,198.6 L1394.3,194.5 L1395.0,200.3 L1395.7,196.9 L1396.4,196.7 L1397.1,187.7 L1397.8,188.1 L1398.6,188.3 L1399.3,198.2 L1400.0,196.8 L1400.7,190.1 L1401.4,190.5 L1402.1,192.4 L1402.8,194.5 L1403.5,193.8 L1404.2,194.3 L1404.9,188.4 L1405.6,192.7 L1406.3,203.8 L1407.1,195.3 L1407.8,190.1 L1408.5,186.7 L1409.2,185.2 L1409.9,186.2 L1410.6,179.7 L1411.3,179.1 L1412.0,178.8 L1412.7,173.7 L1413.4,171.5 L1414.1,173.0 L1414.8,173.0 L1415.6,186.5 L1416.3,174.5 L1417.0,190.1 L1417.7,192.3 L1418.4,194.9 L1419.1,194.7 L1419.8,200.3 L1420.5,196.9 L1421.2,195.3 L1421.9,191.9 L1422.6,194.0 L1423.3,198.4 L1424.0,191.1 L1424.8,185.8 L1425.5,186.4 L1426.2,185.4 L1426.9,185.8 L1427.6,200.1 L1428.3,197.9 L1429.0,197.1 L1429.7,204.4 L1430.4,192.6 L1431.1,198.7 L1431.8,200.3 L1432.5,187.6 L1433.3,191.7 L1434.0,194.9 L1434.7,203.6 L1435.4,203.3 L1436.1,190.6 L1436.8,201.4 L1437.5,195.8 L1438.2,196.0 L1438.9,197.1 L1439.6,202.0 L1440.3,194.2 L1441.0,198.3 L1441.8,197.4 L1442.5,199.0 L1443.2,201.5 L1443.9,201.5 L1444.6,187.0 L1445.3,183.2 L1446.0,187.0 L1446.7,187.7 L1447.4,203.2 L1448.1,197.0 L1448.8,190.5 L1449.5,201.2 L1450.3,196.2 L1451.0,188.3 L1451.7,194.4 L1452.4,198.0 L1453.1,199.5 L1453.8,196.5 L1454.5,188.6 L1455.2,191.2 L1455.9,182.7 L1456.6,179.9 L1457.3,192.6 L1458.0,185.1 L1458.8,181.8 L1459.5,170.4 L1460.2,170.8 L1460.9,173.2 L1461.6,163.4 L1462.3,175.7 L1463.0,177.7" fill="none" stroke="#C55A11" stroke-width="4.6" stroke-linejoin="round"/>
<path d="M1212.6,149.25 L1212.6,278.2 L1442.8,278.2" fill="none" stroke="#000" stroke-width="4.4" stroke-linejoin="miter"/>
<path d="M1212.6,126.8 L1198.8,157.4 L1212.6,149.75 L1226.3999999999999,157.4Z" fill="#000"/>
<path d="M1467.8,278.2 L1433.8,266.55 L1442.3,278.2 L1433.8,289.84999999999997Z" fill="#000"/>
<text x="1166.2" y="177.3" font-family="Liberation Sans, sans-serif" font-size="28"><tspan font-style="italic">I</tspan><tspan font-size="17.5" dy="6.4" dx="-0.9">out</tspan></text>
<text x="1370.5" y="311.6" font-family="Liberation Sans, sans-serif" font-size="28">Time</text>
<path d="M221.70,484.30 L224.13,484.30 L226.55,484.30 L228.98,484.30 L231.40,484.30 L233.83,484.30 L236.25,484.30 L238.68,484.30 L241.10,484.30 L243.53,484.30 L245.95,484.30 L248.38,484.30 L250.80,484.30 L253.23,484.30 L255.65,484.30 L258.08,484.30 L260.50,484.30 L262.93,484.30 L265.36,484.30 L267.78,484.30 L270.21,484.30 L272.63,484.30 L275.06,484.30 L277.48,484.30 L279.91,484.30 L282.33,484.30 L284.76,484.30 L287.18,484.30 L289.61,484.30 L292.03,484.30 L294.46,484.30 L296.88,484.30 L299.31,484.30 L301.74,484.30 L304.16,484.30 L306.59,484.30 L309.01,484.30 L311.44,484.30 L313.86,484.30 L316.29,484.30 L318.71,484.30 L321.14,484.30 L323.56,484.30 L325.99,484.30 L328.41,484.30 L330.84,484.30 L333.26,484.30 L335.69,484.30 L338.11,484.30 L340.54,484.30 L342.97,484.30 L345.39,484.30 L347.82,484.30 L350.24,484.30 L352.67,484.30 L355.09,484.30 L357.52,484.30 L359.94,484.30 L362.37,484.30 L364.79,484.30 L367.22,484.30 L369.64,484.30 L372.07,484.30 L374.49,484.31 L376.92,484.31 L379.35,484.31 L381.77,484.31 L384.20,484.31 L386.62,484.31 L389.05,484.31 L391.47,484.31 L393.90,484.31 L396.32,484.31 L398.75,484.31 L401.17,484.32 L403.60,484.32 L406.02,484.32 L408.45,484.32 L410.87,484.32 L413.30,484.32 L415.72,484.33 L418.15,484.33 L420.58,484.33 L423.00,484.34 L425.43,484.34 L427.85,484.34 L430.28,484.35 L432.70,484.35 L435.13,484.36 L437.55,484.37 L439.98,484.37 L442.40,484.38 L444.83,484.39 L447.25,484.40 L449.68,484.41 L452.10,484.42 L454.53,484.43 L456.96,484.44 L459.38,484.46 L461.81,484.47 L464.23,484.49 L466.66,484.51 L469.08,484.53 L471.51,484.56 L473.93,484.58 L476.36,484.61 L478.78,484.64 L481.21,484.68 L483.63,484.71 L486.06,484.75 L488.48,484.80 L490.91,484.85 L493.33,484.91 L495.76,484.97 L498.19,485.03 L500.61,485.11 L503.04,485.19 L505.46,485.28 L507.89,485.38 L510.31,485.48 L512.74,485.60 L515.16,485.73 L517.59,485.87 L520.01,486.02 L522.44,486.19 L524.86,486.38 L527.29,486.58 L529.71,486.80 L532.14,487.04 L534.57,487.30 L536.99,487.59 L539.42,487.90 L541.84,488.23 L544.27,488.60 L546.69,488.99 L549.12,489.42 L551.54,489.89 L553.97,490.38 L556.39,490.92 L558.82,491.50 L561.24,492.12 L563.67,492.78 L566.09,493.49 L568.52,494.25 L570.94,495.06 L573.37,495.91 L575.80,496.82 L578.22,497.78 L580.65,498.79 L583.07,499.85 L585.50,500.97 L587.92,502.14 L590.35,503.36 L592.77,504.64 L595.20,505.96 L597.62,507.34 L600.05,508.76 L602.47,510.23 L604.90,511.75 L607.32,513.31 L609.75,514.91 L612.18,516.56 L614.60,518.24 L617.03,519.96 L619.45,521.71 L621.88,523.49 L624.30,525.31 L626.73,527.15 L629.15,529.02 L631.58,530.92 L634.00,532.84 L636.43,534.78 L638.85,536.74 L641.28,538.72 L643.70,540.71 L646.13,542.72 L648.55,544.75 L650.98,546.79 L653.41,548.84 L655.83,550.90 L658.26,552.98 L660.68,555.06 L663.11,557.15 L665.53,559.25 L667.96,561.36 L670.38,563.47 L672.81,565.59 L675.23,567.71 L677.66,569.84 L680.08,571.98 L682.51,574.11 L684.93,576.26 L687.36,578.40 L689.79,580.55 L692.21,582.70 L694.64,584.85 L697.06,587.01 L699.49,589.17 L701.91,591.33 L704.34,593.49 L706.76,595.65 L709.19,597.82 L711.61,599.98 L714.04,602.15 L716.46,604.32 L718.89,606.48 L721.31,608.65 L723.74,610.82 L726.16,612.99 L728.59,615.16 L731.02,617.33 L733.44,619.50 L735.87,621.68 L738.29,623.85 L740.72,626.02 L743.14,628.19 L745.57,630.36 L747.99,632.53 L750.42,634.70 L752.84,636.87 L755.27,639.04 L757.69,641.20 L760.12,643.37 L762.54,645.54 L764.97,647.70 L767.40,649.87 L769.82,652.03 L772.25,654.19 L774.67,656.35 L777.10,658.51 L779.52,660.66 L781.95,662.82 L784.37,664.97 L786.80,667.11 L789.22,669.26 L791.65,671.40 L794.07,673.54 L796.50,675.67 L798.92,677.80 L801.35,679.93 L803.77,682.05 L806.20,684.16 L808.63,686.27 L811.05,688.37 L813.48,690.46 L815.90,692.54 L818.33,694.62 L820.75,696.68 L823.18,698.74 L825.60,700.78 L828.03,702.81 L830.45,704.83 L832.88,706.83 L835.30,708.82 L837.73,710.78 L840.15,712.73 L842.58,714.66 L845.01,716.57 L847.43,718.46 L849.86,720.32 L852.28,722.15 L854.71,723.95 L857.13,725.73 L859.56,727.47 L861.98,729.18 L864.41,730.85 L866.83,732.48 L869.26,734.08 L871.68,735.63 L874.11,737.14 L876.53,738.60 L878.96,740.02 L881.38,741.39 L883.81,742.72 L886.24,743.99 L888.66,745.21 L891.09,746.39 L893.51,747.51 L895.94,748.58 L898.36,749.59 L900.79,750.56 L903.21,751.48 L905.64,752.34 L908.06,753.16 L910.49,753.93 L912.91,754.65 L915.34,755.33 L917.76,755.97 L920.19,756.56 L922.62,757.12 L925.04,757.63 L927.47,758.11 L929.89,758.56 L932.32,758.97 L934.74,759.35 L937.17,759.70 L939.59,760.03 L942.02,760.33 L944.44,760.61 L946.87,760.86 L949.29,761.09 L951.72,761.31 L954.14,761.51 L956.57,761.69 L958.99,761.85 L961.42,762.01 L963.85,762.15 L966.27,762.27 L968.70,762.39 L971.12,762.50 L973.55,762.59 L975.97,762.68 L978.40,762.76 L980.82,762.84 L983.25,762.91 L985.67,762.97 L988.10,763.02 L990.52,763.08 L992.95,763.12 L995.37,763.17 L997.80,763.20 L997.80,763.60 L995.37,763.60 L992.95,763.60 L990.52,763.60 L988.10,763.60 L985.67,763.60 L983.25,763.60 L980.82,763.60 L978.40,763.60 L975.97,763.60 L973.55,763.60 L971.12,763.60 L968.70,763.60 L966.27,763.60 L963.85,763.59 L961.42,763.59 L958.99,763.59 L956.57,763.59 L954.14,763.59 L951.72,763.59 L949.29,763.59 L946.87,763.59 L944.44,763.59 L942.02,763.59 L939.59,763.59 L937.17,763.58 L934.74,763.58 L932.32,763.58 L929.89,763.58 L927.47,763.58 L925.04,763.57 L922.62,763.57 L920.19,763.57 L917.76,763.57 L915.34,763.56 L912.91,763.56 L910.49,763.56 L908.06,763.55 L905.64,763.55 L903.21,763.54 L900.79,763.54 L898.36,763.53 L895.94,763.52 L893.51,763.51 L891.09,763.51 L888.66,763.50 L886.24,763.49 L883.81,763.48 L881.38,763.47 L878.96,763.45 L876.53,763.44 L874.11,763.42 L871.68,763.41 L869.26,763.39 L866.83,763.37 L864.41,763.35 L861.98,763.32 L859.56,763.30 L857.13,763.27 L854.71,763.24 L852.28,763.20 L849.86,763.16 L847.43,763.12 L845.01,763.08 L842.58,763.03 L840.15,762.98 L837.73,762.92 L835.30,762.85 L832.88,762.78 L830.45,762.71 L828.03,762.63 L825.60,762.53 L823.18,762.44 L820.75,762.33 L818.33,762.21 L815.90,762.08 L813.48,761.95 L811.05,761.79 L808.63,761.63 L806.20,761.45 L803.77,761.26 L801.35,761.05 L798.92,760.82 L796.50,760.57 L794.07,760.31 L791.65,760.02 L789.22,759.70 L786.80,759.37 L784.37,759.00 L781.95,758.61 L779.52,758.19 L777.10,757.74 L774.67,757.25 L772.25,756.73 L769.82,756.18 L767.40,755.58 L764.97,754.95 L762.54,754.27 L760.12,753.56 L757.69,752.80 L755.27,752.00 L752.84,751.15 L750.42,750.25 L747.99,749.31 L745.57,748.33 L743.14,747.29 L740.72,746.21 L738.29,745.08 L735.87,743.90 L733.44,742.68 L731.02,741.42 L728.59,740.11 L726.16,738.75 L723.74,737.35 L721.31,735.92 L718.89,734.44 L716.46,732.92 L714.04,731.37 L711.61,729.79 L709.19,728.17 L706.76,726.52 L704.34,724.84 L701.91,723.13 L699.49,721.40 L697.06,719.64 L694.64,717.86 L692.21,716.06 L689.79,714.23 L687.36,712.39 L684.93,710.54 L682.51,708.67 L680.08,706.78 L677.66,704.88 L675.23,702.98 L672.81,701.06 L670.38,699.13 L667.96,697.20 L665.53,695.26 L663.11,693.32 L660.68,691.37 L658.26,689.42 L655.83,687.47 L653.41,685.52 L650.98,683.57 L648.55,681.63 L646.13,679.68 L643.70,677.75 L641.28,675.82 L638.85,673.90 L636.43,671.99 L634.00,670.09 L631.58,668.20 L629.15,666.33 L626.73,664.48 L624.30,662.65 L621.88,660.83 L619.45,659.04 L617.03,657.28 L614.60,655.54 L612.18,653.84 L609.75,652.17 L607.32,650.53 L604.90,648.93 L602.47,647.37 L600.05,645.86 L597.62,644.38 L595.20,642.96 L592.77,641.59 L590.35,640.26 L587.92,638.99 L585.50,637.78 L583.07,636.62 L580.65,635.51 L578.22,634.47 L575.80,633.47 L573.37,632.54 L570.94,631.66 L568.52,630.83 L566.09,630.06 L563.67,629.34 L561.24,628.67 L558.82,628.05 L556.39,627.48 L553.97,626.95 L551.54,626.46 L549.12,626.01 L546.69,625.60 L544.27,625.23 L541.84,624.88 L539.42,624.57 L536.99,624.28 L534.57,624.02 L532.14,623.78 L529.71,623.57 L527.29,623.38 L524.86,623.20 L522.44,623.04 L520.01,622.90 L517.59,622.77 L515.16,622.65 L512.74,622.54 L510.31,622.45 L507.89,622.36 L505.46,622.29 L503.04,622.22 L500.61,622.15 L498.19,622.10 L495.76,622.05 L493.33,622.00 L490.91,621.96 L488.48,621.92 L486.06,621.89 L483.63,621.86 L481.21,621.83 L478.78,621.81 L476.36,621.79 L473.93,621.77 L471.51,621.75 L469.08,621.74 L466.66,621.72 L464.23,621.71 L461.81,621.70 L459.38,621.69 L456.96,621.68 L454.53,621.67 L452.10,621.66 L449.68,621.66 L447.25,621.65 L444.83,621.65 L442.40,621.64 L439.98,621.64 L437.55,621.63 L435.13,621.63 L432.70,621.63 L430.28,621.62 L427.85,621.62 L425.43,621.62 L423.00,621.62 L420.58,621.62 L418.15,621.61 L415.72,621.61 L413.30,621.61 L410.87,621.61 L408.45,621.61 L406.02,621.61 L403.60,621.61 L401.17,621.61 L398.75,621.61 L396.32,621.61 L393.90,621.60 L391.47,621.60 L389.05,621.60 L386.62,621.60 L384.20,621.60 L381.77,621.60 L379.35,621.60 L376.92,621.60 L374.49,621.60 L372.07,621.60 L369.64,621.60 L367.22,621.60 L364.79,621.60 L362.37,621.60 L359.94,621.60 L357.52,621.60 L355.09,621.60 L352.67,621.60 L350.24,621.60 L347.82,621.60 L345.39,621.60 L342.97,621.60 L340.54,621.60 L338.11,621.60 L335.69,621.60 L333.26,621.60 L330.84,621.60 L328.41,621.60 L325.99,621.60 L323.56,621.60 L321.14,621.60 L318.71,621.60 L316.29,621.60 L313.86,621.60 L311.44,621.60 L309.01,621.60 L306.59,621.60 L304.16,621.60 L301.74,621.60 L299.31,621.60 L296.88,621.60 L294.46,621.60 L292.03,621.60 L289.61,621.60 L287.18,621.60 L284.76,621.60 L282.33,621.60 L279.91,621.60 L277.48,621.60 L275.06,621.60 L272.63,621.60 L270.21,621.60 L267.78,621.60 L265.36,621.60 L262.93,621.60 L260.50,621.60 L258.08,621.60 L255.65,621.60 L253.23,621.60 L250.80,621.60 L248.38,621.60 L245.95,621.60 L243.53,621.60 L241.10,621.60 L238.68,621.60 L236.25,621.60 L233.83,621.60 L231.40,621.60 L228.98,621.60 L226.55,621.60 L224.13,621.60 L221.70,621.60Z" fill="#d9d9d9" stroke="none"/>
<path d="M221.70,484.30 L224.13,484.30 L226.55,484.30 L228.98,484.30 L231.40,484.30 L233.83,484.30 L236.25,484.30 L238.68,484.30 L241.10,484.30 L243.53,484.30 L245.95,484.30 L248.38,484.30 L250.80,484.30 L253.23,484.30 L255.65,484.30 L258.08,484.30 L260.50,484.30 L262.93,484.30 L265.36,484.30 L267.78,484.30 L270.21,484.30 L272.63,484.30 L275.06,484.30 L277.48,484.30 L279.91,484.30 L282.33,484.30 L284.76,484.30 L287.18,484.30 L289.61,484.30 L292.03,484.30 L294.46,484.30 L296.88,484.30 L299.31,484.30 L301.74,484.30 L304.16,484.30 L306.59,484.30 L309.01,484.30 L311.44,484.30 L313.86,484.30 L316.29,484.30 L318.71,484.30 L321.14,484.30 L323.56,484.30 L325.99,484.30 L328.41,484.30 L330.84,484.30 L333.26,484.30 L335.69,484.30 L338.11,484.30 L340.54,484.30 L342.97,484.30 L345.39,484.30 L347.82,484.30 L350.24,484.30 L352.67,484.30 L355.09,484.30 L357.52,484.30 L359.94,484.30 L362.37,484.30 L364.79,484.30 L367.22,484.30 L369.64,484.30 L372.07,484.30 L374.49,484.31 L376.92,484.31 L379.35,484.31 L381.77,484.31 L384.20,484.31 L386.62,484.31 L389.05,484.31 L391.47,484.31 L393.90,484.31 L396.32,484.31 L398.75,484.31 L401.17,484.32 L403.60,484.32 L406.02,484.32 L408.45,484.32 L410.87,484.32 L413.30,484.32 L415.72,484.33 L418.15,484.33 L420.58,484.33 L423.00,484.34 L425.43,484.34 L427.85,484.34 L430.28,484.35 L432.70,484.35 L435.13,484.36 L437.55,484.37 L439.98,484.37 L442.40,484.38 L444.83,484.39 L447.25,484.40 L449.68,484.41 L452.10,484.42 L454.53,484.43 L456.96,484.44 L459.38,484.46 L461.81,484.47 L464.23,484.49 L466.66,484.51 L469.08,484.53 L471.51,484.56 L473.93,484.58 L476.36,484.61 L478.78,484.64 L481.21,484.68 L483.63,484.71 L486.06,484.75 L488.48,484.80 L490.91,484.85 L493.33,484.91 L495.76,484.97 L498.19,485.03 L500.61,485.11 L503.04,485.19 L505.46,485.28 L507.89,485.38 L510.31,485.48 L512.74,485.60 L515.16,485.73 L517.59,485.87 L520.01,486.02 L522.44,486.19 L524.86,486.38 L527.29,486.58 L529.71,486.80 L532.14,487.04 L534.57,487.30 L536.99,487.59 L539.42,487.90 L541.84,488.23 L544.27,488.60 L546.69,488.99 L549.12,489.42 L551.54,489.89 L553.97,490.38 L556.39,490.92 L558.82,491.50 L561.24,492.12 L563.67,492.78 L566.09,493.49 L568.52,494.25 L570.94,495.06 L573.37,495.91 L575.80,496.82 L578.22,497.78 L580.65,498.79 L583.07,499.85 L585.50,500.97 L587.92,502.14 L590.35,503.36 L592.77,504.64 L595.20,505.96 L597.62,507.34 L600.05,508.76 L602.47,510.23 L604.90,511.75 L607.32,513.31 L609.75,514.91 L612.18,516.56 L614.60,518.24 L617.03,519.96 L619.45,521.71 L621.88,523.49 L624.30,525.31 L626.73,527.15 L629.15,529.02 L631.58,530.92 L634.00,532.84 L636.43,534.78 L638.85,536.74 L641.28,538.72 L643.70,540.71 L646.13,542.72 L648.55,544.75 L650.98,546.79 L653.41,548.84 L655.83,550.90 L658.26,552.98 L660.68,555.06 L663.11,557.15 L665.53,559.25 L667.96,561.36 L670.38,563.47 L672.81,565.59 L675.23,567.71 L677.66,569.84 L680.08,571.98 L682.51,574.11 L684.93,576.26 L687.36,578.40 L689.79,580.55 L692.21,582.70 L694.64,584.85 L697.06,587.01 L699.49,589.17 L701.91,591.33 L704.34,593.49 L706.76,595.65 L709.19,597.82 L711.61,599.98 L714.04,602.15 L716.46,604.32 L718.89,606.48 L721.31,608.65 L723.74,610.82 L726.16,612.99 L728.59,615.16 L731.02,617.33 L733.44,619.50 L735.87,621.68 L738.29,623.85 L740.72,626.02 L743.14,628.19 L745.57,630.36 L747.99,632.53 L750.42,634.70 L752.84,636.87 L755.27,639.04 L757.69,641.20 L760.12,643.37 L762.54,645.54 L764.97,647.70 L767.40,649.87 L769.82,652.03 L772.25,654.19 L774.67,656.35 L777.10,658.51 L779.52,660.66 L781.95,662.82 L784.37,664.97 L786.80,667.11 L789.22,669.26 L791.65,671.40 L794.07,673.54 L796.50,675.67 L798.92,677.80 L801.35,679.93 L803.77,682.05 L806.20,684.16 L808.63,686.27 L811.05,688.37 L813.48,690.46 L815.90,692.54 L818.33,694.62 L820.75,696.68 L823.18,698.74 L825.60,700.78 L828.03,702.81 L830.45,704.83 L832.88,706.83 L835.30,708.82 L837.73,710.78 L840.15,712.73 L842.58,714.66 L845.01,716.57 L847.43,718.46 L849.86,720.32 L852.28,722.15 L854.71,723.95 L857.13,725.73 L859.56,727.47 L861.98,729.18 L864.41,730.85 L866.83,732.48 L869.26,734.08 L871.68,735.63 L874.11,737.14 L876.53,738.60 L878.96,740.02 L881.38,741.39 L883.81,742.72 L886.24,743.99 L888.66,745.21 L891.09,746.39 L893.51,747.51 L895.94,748.58 L898.36,749.59 L900.79,750.56 L903.21,751.48 L905.64,752.34 L908.06,753.16 L910.49,753.93 L912.91,754.65 L915.34,755.33 L917.76,755.97 L920.19,756.56 L922.62,757.12 L925.04,757.63 L927.47,758.11 L929.89,758.56 L932.32,758.97 L934.74,759.35 L937.17,759.70 L939.59,760.03 L942.02,760.33 L944.44,760.61 L946.87,760.86 L949.29,761.09 L951.72,761.31 L954.14,761.51 L956.57,761.69 L958.99,761.85 L961.42,762.01 L963.85,762.15 L966.27,762.27 L968.70,762.39 L971.12,762.50 L973.55,762.59 L975.97,762.68 L978.40,762.76 L980.82,762.84 L983.25,762.91 L985.67,762.97 L988.10,763.02 L990.52,763.08 L992.95,763.12 L995.37,763.17 L997.80,763.20" fill="none" stroke="#bdbdbd" stroke-width="2.2"/>
<path d="M221.70,621.60 L224.13,621.60 L226.55,621.60 L228.98,621.60 L231.40,621.60 L233.83,621.60 L236.25,621.60 L238.68,621.60 L241.10,621.60 L243.53,621.60 L245.95,621.60 L248.38,621.60 L250.80,621.60 L253.23,621.60 L255.65,621.60 L258.08,621.60 L260.50,621.60 L262.93,621.60 L265.36,621.60 L267.78,621.60 L270.21,621.60 L272.63,621.60 L275.06,621.60 L277.48,621.60 L279.91,621.60 L282.33,621.60 L284.76,621.60 L287.18,621.60 L289.61,621.60 L292.03,621.60 L294.46,621.60 L296.88,621.60 L299.31,621.60 L301.74,621.60 L304.16,621.60 L306.59,621.60 L309.01,621.60 L311.44,621.60 L313.86,621.60 L316.29,621.60 L318.71,621.60 L321.14,621.60 L323.56,621.60 L325.99,621.60 L328.41,621.60 L330.84,621.60 L333.26,621.60 L335.69,621.60 L338.11,621.60 L340.54,621.60 L342.97,621.60 L345.39,621.60 L347.82,621.60 L350.24,621.60 L352.67,621.60 L355.09,621.60 L357.52,621.60 L359.94,621.60 L362.37,621.60 L364.79,621.60 L367.22,621.60 L369.64,621.60 L372.07,621.60 L374.49,621.60 L376.92,621.60 L379.35,621.60 L381.77,621.60 L384.20,621.60 L386.62,621.60 L389.05,621.60 L391.47,621.60 L393.90,621.60 L396.32,621.61 L398.75,621.61 L401.17,621.61 L403.60,621.61 L406.02,621.61 L408.45,621.61 L410.87,621.61 L413.30,621.61 L415.72,621.61 L418.15,621.61 L420.58,621.62 L423.00,621.62 L425.43,621.62 L427.85,621.62 L430.28,621.62 L432.70,621.63 L435.13,621.63 L437.55,621.63 L439.98,621.64 L442.40,621.64 L444.83,621.65 L447.25,621.65 L449.68,621.66 L452.10,621.66 L454.53,621.67 L456.96,621.68 L459.38,621.69 L461.81,621.70 L464.23,621.71 L466.66,621.72 L469.08,621.74 L471.51,621.75 L473.93,621.77 L476.36,621.79 L478.78,621.81 L481.21,621.83 L483.63,621.86 L486.06,621.89 L488.48,621.92 L490.91,621.96 L493.33,622.00 L495.76,622.05 L498.19,622.10 L500.61,622.15 L503.04,622.22 L505.46,622.29 L507.89,622.36 L510.31,622.45 L512.74,622.54 L515.16,622.65 L517.59,622.77 L520.01,622.90 L522.44,623.04 L524.86,623.20 L527.29,623.38 L529.71,623.57 L532.14,623.78 L534.57,624.02 L536.99,624.28 L539.42,624.57 L541.84,624.88 L544.27,625.23 L546.69,625.60 L549.12,626.01 L551.54,626.46 L553.97,626.95 L556.39,627.48 L558.82,628.05 L561.24,628.67 L563.67,629.34 L566.09,630.06 L568.52,630.83 L570.94,631.66 L573.37,632.54 L575.80,633.47 L578.22,634.47 L580.65,635.51 L583.07,636.62 L585.50,637.78 L587.92,638.99 L590.35,640.26 L592.77,641.59 L595.20,642.96 L597.62,644.38 L600.05,645.86 L602.47,647.37 L604.90,648.93 L607.32,650.53 L609.75,652.17 L612.18,653.84 L614.60,655.54 L617.03,657.28 L619.45,659.04 L621.88,660.83 L624.30,662.65 L626.73,664.48 L629.15,666.33 L631.58,668.20 L634.00,670.09 L636.43,671.99 L638.85,673.90 L641.28,675.82 L643.70,677.75 L646.13,679.68 L648.55,681.63 L650.98,683.57 L653.41,685.52 L655.83,687.47 L658.26,689.42 L660.68,691.37 L663.11,693.32 L665.53,695.26 L667.96,697.20 L670.38,699.13 L672.81,701.06 L675.23,702.98 L677.66,704.88 L680.08,706.78 L682.51,708.67 L684.93,710.54 L687.36,712.39 L689.79,714.23 L692.21,716.06 L694.64,717.86 L697.06,719.64 L699.49,721.40 L701.91,723.13 L704.34,724.84 L706.76,726.52 L709.19,728.17 L711.61,729.79 L714.04,731.37 L716.46,732.92 L718.89,734.44 L721.31,735.92 L723.74,737.35 L726.16,738.75 L728.59,740.11 L731.02,741.42 L733.44,742.68 L735.87,743.90 L738.29,745.08 L740.72,746.21 L743.14,747.29 L745.57,748.33 L747.99,749.31 L750.42,750.25 L752.84,751.15 L755.27,752.00 L757.69,752.80 L760.12,753.56 L762.54,754.27 L764.97,754.95 L767.40,755.58 L769.82,756.18 L772.25,756.73 L774.67,757.25 L777.10,757.74 L779.52,758.19 L781.95,758.61 L784.37,759.00 L786.80,759.37 L789.22,759.70 L791.65,760.02 L794.07,760.31 L796.50,760.57 L798.92,760.82 L801.35,761.05 L803.77,761.26 L806.20,761.45 L808.63,761.63 L811.05,761.79 L813.48,761.95 L815.90,762.08 L818.33,762.21 L820.75,762.33 L823.18,762.44 L825.60,762.53 L828.03,762.63 L830.45,762.71 L832.88,762.78 L835.30,762.85 L837.73,762.92 L840.15,762.98 L842.58,763.03 L845.01,763.08 L847.43,763.12 L849.86,763.16 L852.28,763.20 L854.71,763.24 L857.13,763.27 L859.56,763.30 L861.98,763.32 L864.41,763.35 L866.83,763.37 L869.26,763.39 L871.68,763.41 L874.11,763.42 L876.53,763.44 L878.96,763.45 L881.38,763.47 L883.81,763.48 L886.24,763.49 L888.66,763.50 L891.09,763.51 L893.51,763.51 L895.94,763.52 L898.36,763.53 L900.79,763.54 L903.21,763.54 L905.64,763.55 L908.06,763.55 L910.49,763.56 L912.91,763.56 L915.34,763.56 L917.76,763.57 L920.19,763.57 L922.62,763.57 L925.04,763.57 L927.47,763.58 L929.89,763.58 L932.32,763.58 L934.74,763.58 L937.17,763.58 L939.59,763.59 L942.02,763.59 L944.44,763.59 L946.87,763.59 L949.29,763.59 L951.72,763.59 L954.14,763.59 L956.57,763.59 L958.99,763.59 L961.42,763.59 L963.85,763.59 L966.27,763.60 L968.70,763.60 L971.12,763.60 L973.55,763.60 L975.97,763.60 L978.40,763.60 L980.82,763.60 L983.25,763.60 L985.67,763.60 L988.10,763.60 L990.52,763.60 L992.95,763.60 L995.37,763.60 L997.80,763.60" fill="none" stroke="#c4c4c4" stroke-width="2.2"/>
<path d="M183.6,696.80 L1035,696.80 M183.6,590.55 L1035,590.55 M183.6,484.30 L1035,484.30 M221.70,469 L221.70,777 M573.40,469 L573.40,777 M925.10,469 L925.10,777" stroke="#b0b0b0" stroke-width="2.8" fill="none"/>
<path d="M221.70,763.6 L997.80,763.6" stroke="#000" stroke-width="6" stroke-dasharray="22.6 9.23" fill="none"/>
<path d="M221.70,589.20 L224.12,589.20 L226.54,589.20 L228.96,589.20 L231.37,589.20 L233.79,589.20 L236.21,589.20 L238.63,589.20 L241.05,589.20 L243.47,589.20 L245.89,589.20 L248.31,589.20 L250.72,589.20 L253.14,589.20 L255.56,589.20 L257.98,589.20 L260.40,589.20 L262.82,589.20 L265.24,589.20 L267.66,589.20 L270.07,589.20 L272.49,589.20 L274.91,589.20 L277.33,589.20 L279.75,589.20 L282.17,589.20 L284.59,589.20 L287.01,589.20 L289.42,589.20 L291.84,589.20 L294.26,589.20 L296.68,589.20 L299.10,589.20 L301.52,589.20 L303.94,589.20 L306.36,589.20 L308.77,589.20 L311.19,589.20 L313.61,589.20 L316.03,589.20 L318.45,589.20 L320.87,589.20 L323.29,589.20 L325.71,589.20 L328.12,589.20 L330.54,589.20 L332.96,589.20 L335.38,589.20 L337.80,589.20 L340.22,589.20 L342.64,589.20 L345.06,589.20 L347.47,589.20 L349.89,589.20 L352.31,589.20 L354.73,589.20 L357.15,589.20 L359.57,589.20 L361.99,589.20 L364.41,589.21 L366.82,589.21 L369.24,589.21 L371.66,589.21 L374.08,589.21 L376.50,589.21 L378.92,589.21 L381.34,589.21 L383.76,589.21 L386.17,589.21 L388.59,589.21 L391.01,589.21 L393.43,589.22 L395.85,589.22 L398.27,589.22 L400.69,589.22 L403.11,589.22 L405.52,589.23 L407.94,589.23 L410.36,589.23 L412.78,589.23 L415.20,589.24 L417.62,589.24 L420.04,589.24 L422.46,589.25 L424.88,589.25 L427.29,589.26 L429.71,589.27 L432.13,589.27 L434.55,589.28 L436.97,589.29 L439.39,589.29 L441.81,589.30 L444.23,589.31 L446.64,589.33 L449.06,589.34 L451.48,589.35 L453.90,589.37 L456.32,589.38 L458.74,589.40 L461.16,589.42 L463.57,589.44 L465.99,589.46 L468.41,589.49 L470.83,589.52 L473.25,589.55 L475.67,589.58 L478.09,589.62 L480.51,589.66 L482.93,589.71 L485.34,589.76 L487.76,589.81 L490.18,589.87 L492.60,589.93 L495.02,590.01 L497.44,590.08 L499.86,590.17 L502.27,590.26 L504.69,590.36 L507.11,590.47 L509.53,590.59 L511.95,590.73 L514.37,590.87 L516.79,591.03 L519.21,591.20 L521.62,591.39 L524.04,591.59 L526.46,591.82 L528.88,592.06 L531.30,592.32 L533.72,592.60 L536.14,592.91 L538.56,593.25 L540.97,593.61 L543.39,594.00 L545.81,594.42 L548.23,594.88 L550.65,595.37 L553.07,595.89 L555.49,596.46 L557.91,597.06 L560.32,597.71 L562.74,598.39 L565.16,599.13 L567.58,599.91 L570.00,600.74 L572.42,601.61 L574.84,602.54 L577.26,603.51 L579.67,604.54 L582.09,605.62 L584.51,606.74 L586.93,607.92 L589.35,609.15 L591.77,610.43 L594.19,611.76 L596.61,613.13 L599.02,614.55 L601.44,616.02 L603.86,617.53 L606.28,619.09 L608.70,620.68 L611.12,622.31 L613.54,623.98 L615.96,625.69 L618.38,627.43 L620.79,629.20 L623.21,631.00 L625.63,632.82 L628.05,634.68 L630.47,636.55 L632.89,638.45 L635.31,640.37 L637.72,642.31 L640.14,644.27 L642.56,646.24 L644.98,648.23 L647.40,650.23 L649.82,652.24 L652.24,654.27 L654.66,656.30 L657.08,658.35 L659.49,660.40 L661.91,662.46 L664.33,664.52 L666.75,666.59 L669.17,668.67 L671.59,670.74 L674.01,672.82 L676.42,674.90 L678.84,676.98 L681.26,679.06 L683.68,681.14 L686.10,683.22 L688.52,685.30 L690.94,687.37 L693.36,689.44 L695.77,691.50 L698.19,693.56 L700.61,695.61 L703.03,697.65 L705.45,699.68 L707.87,701.70 L710.29,703.71 L712.71,705.71 L715.12,707.69 L717.54,709.66 L719.96,711.61 L722.38,713.54 L724.80,715.46 L727.22,717.35 L729.64,719.22 L732.06,721.06 L734.47,722.87 L736.89,724.66 L739.31,726.42 L741.73,728.14 L744.15,729.83 L746.57,731.49 L748.99,733.10 L751.41,734.68 L753.83,736.22 L756.24,737.71 L758.66,739.15 L761.08,740.55 L763.50,741.90 L765.92,743.21 L768.34,744.46 L770.76,745.66 L773.17,746.82 L775.59,747.92 L778.01,748.97 L780.43,749.96 L782.85,750.91 L785.27,751.81 L787.69,752.66 L790.11,753.45 L792.53,754.21 L794.94,754.91 L797.36,755.58 L799.78,756.19 L802.20,756.77 L804.62,757.31 L807.04,757.81 L809.46,758.28 L811.88,758.71 L814.29,759.11 L816.71,759.48 L819.13,759.83 L821.55,760.14 L823.97,760.43 L826.39,760.70 L828.81,760.95 L831.22,761.18 L833.64,761.38 L836.06,761.58 L838.48,761.75 L840.90,761.91 L843.32,762.06 L845.74,762.19 L848.16,762.32 L850.57,762.43 L852.99,762.53 L855.41,762.63 L857.83,762.71 L860.25,762.79 L862.67,762.86 L865.09,762.93 L867.51,762.99 L869.92,763.04 L872.34,763.09 L874.76,763.14 L877.18,763.18 L879.60,763.22 L882.02,763.25 L884.44,763.28 L886.86,763.31 L889.27,763.34 L891.69,763.36 L894.11,763.38 L896.53,763.40 L898.95,763.42 L901.37,763.44 L903.79,763.45 L906.21,763.46 L908.62,763.48 L911.04,763.49 L913.46,763.50 L915.88,763.51 L918.30,763.52 L920.72,763.52 L923.14,763.53 L925.56,763.54 L927.97,763.54 L930.39,763.55 L932.81,763.55 L935.23,763.56 L937.65,763.56 L940.07,763.56 L942.49,763.57 L944.91,763.57 L947.33,763.57 L949.74,763.58 L952.16,763.58 L954.58,763.58 L957.00,763.58 L959.42,763.58 L961.84,763.59 L964.26,763.59 L966.67,763.59 L969.09,763.59 L971.51,763.59 L973.93,763.59 L976.35,763.59 L978.77,763.59 L981.19,763.59 L983.61,763.59 L986.03,763.60 L988.44,763.60 L990.86,763.60 L993.28,763.60 L995.70,763.60" fill="none" stroke="#000" stroke-width="6.2" stroke-linecap="square"/>
<path d="M573.40,777 L573.40,509.9 L1140,509.9" fill="none" stroke="rgb(235,20,20)" stroke-opacity="0.65" stroke-width="3.7"/>
<path d="M1138.2,499.4 L1159.8,509.8 L1138.2,520.2Z" fill="rgb(235,20,20)" fill-opacity="0.65"/>
<path d="M785.14,777 L785.14,685.8 L1141,685.8" fill="none" stroke="#70AD47" stroke-opacity="0.6" stroke-width="3.7"/>
<path d="M1139.5,675.2 L1161.1,685.8 L1139.5,696.4Z" fill="#70AD47" fill-opacity="0.6"/>
<path d="M183.6,469.6 L183.6,777.9 L1033.8,777.9" fill="none" stroke="#000" stroke-width="3.6" stroke-linecap="square"/>
<path d="M169.3,696.80 L183.6,696.80 M169.3,590.55 L183.6,590.55 M169.3,484.30 L183.6,484.30 M221.70,777.9 L221.70,792.3 M573.40,777.9 L573.40,792.3 M925.10,777.9 L925.10,792.3" stroke="#000" stroke-width="3.5" fill="none"/>
<path d="M187.62,777.9 L187.62,786.2 M205.61,777.9 L205.61,786.2 M327.57,777.9 L327.57,786.2 M389.50,777.9 L389.50,786.2 M433.44,777.9 L433.44,786.2 M467.53,777.9 L467.53,786.2 M495.38,777.9 L495.38,786.2 M518.92,777.9 L518.92,786.2 M539.32,777.9 L539.32,786.2 M557.31,777.9 L557.31,786.2 M679.27,777.9 L679.27,786.2 M741.20,777.9 L741.20,786.2 M785.14,777.9 L785.14,786.2 M819.23,777.9 L819.23,786.2 M847.08,777.9 L847.08,786.2 M870.62,777.9 L870.62,786.2 M909.01,777.9 L909.01,786.2 M1030.97,777.9 L1030.97,786.2" stroke="#000" stroke-width="2.6" fill="none"/>
<text x="112.6" y="498.5" font-family="Liberation Sans, sans-serif" font-size="28">10<tspan font-size="19.5" dy="-19.5" dx="-1.2">5</tspan></text>
<text x="112.6" y="604.8" font-family="Liberation Sans, sans-serif" font-size="28">10<tspan font-size="19.5" dy="-19.5" dx="-1.2">3</tspan></text>
<text x="112.6" y="711.0" font-family="Liberation Sans, sans-serif" font-size="28">10<tspan font-size="19.5" dy="-19.5" dx="-1.2">1</tspan></text>
<text x="201.2" y="838" font-family="Liberation Sans, sans-serif" font-size="28">10<tspan font-size="19.5" dy="-19.5" dx="-0.8">0</tspan></text>
<text x="552.9" y="838" font-family="Liberation Sans, sans-serif" font-size="28">10<tspan font-size="19.5" dy="-19.5" dx="-0.8">1</tspan></text>
<text x="904.6" y="838" font-family="Liberation Sans, sans-serif" font-size="28">10<tspan font-size="19.5" dy="-19.5" dx="-0.8">2</tspan></text>
<text x="607.8" y="882.6" font-family="Liberation Sans, sans-serif" font-size="28.2" text-anchor="middle">Frequency spacing (Hz)</text>
<text transform="translate(88.9,624) rotate(-90)" font-family="Liberation Sans, sans-serif" font-size="28" text-anchor="middle">Mean squared error</text>
<path d="M1214.50,580.70 L1214.50,551.40 L1244.00,551.40 L1244.00,551.10 L1245.28,551.10 L1246.56,551.10 L1247.84,551.10 L1249.10,551.10 L1250.36,551.10 L1251.61,551.10 L1252.86,551.10 L1254.10,551.09 L1255.33,550.97 L1256.56,550.85 L1257.78,550.72 L1258.99,550.60 L1260.20,550.47 L1261.40,550.34 L1262.60,550.21 L1263.78,550.08 L1264.97,549.95 L1266.14,549.81 L1267.31,549.68 L1268.47,549.54 L1269.63,549.40 L1270.78,549.25 L1271.92,549.11 L1273.06,548.96 L1274.19,548.82 L1275.31,548.67 L1276.43,548.51 L1277.54,548.36 L1278.64,548.20 L1279.74,548.05 L1280.83,547.88 L1281.92,547.72 L1283.00,547.56 L1284.07,547.39 L1285.14,547.22 L1286.19,547.05 L1287.25,546.88 L1288.29,546.70 L1289.33,546.52 L1290.37,546.34 L1291.40,546.16 L1292.42,545.98 L1293.43,545.79 L1294.44,545.60 L1295.44,545.41 L1296.43,545.21 L1297.42,545.02 L1298.41,544.82 L1299.38,544.62 L1300.35,544.41 L1301.31,544.20 L1302.27,543.99 L1303.22,543.78 L1304.16,543.57 L1305.10,543.35 L1306.03,543.13 L1306.95,542.91 L1307.87,542.68 L1308.78,542.45 L1309.69,542.22 L1310.59,541.98 L1311.48,541.75 L1312.36,541.51 L1313.24,541.26 L1314.12,541.02 L1314.98,540.77 L1315.84,540.51 L1316.69,540.26 L1317.54,540.00 L1318.38,539.74 L1319.22,539.47 L1320.04,539.20 L1320.86,538.93 L1321.68,538.66 L1322.49,538.38 L1323.29,538.10 L1324.08,537.81 L1324.87,537.52 L1325.66,537.23 L1326.43,536.94 L1327.20,536.64 L1327.96,536.34 L1328.72,536.03 L1329.47,535.72 L1330.22,535.41 L1330.95,535.09 L1331.68,534.77 L1332.41,534.44 L1333.13,534.12 L1333.84,533.78 L1334.54,533.45 L1335.24,533.11 L1335.93,532.77 L1336.62,532.42 L1337.30,532.07 L1337.97,531.71 L1338.64,531.35 L1339.30,530.99 L1339.95,530.62 L1340.60,530.25 L1341.24,529.87 L1341.88,529.49 L1342.50,529.11 L1343.12,528.72 L1343.74,528.33 L1344.35,527.93 L1344.95,527.53 L1345.55,527.12 L1346.14,526.71 L1346.72,526.30 L1347.29,525.88 L1347.86,525.45 L1348.43,525.03 L1348.98,524.59 L1349.54,524.16 L1350.08,523.71 L1350.62,523.27 L1351.15,522.81 L1351.67,522.36 L1352.19,521.90 L1352.70,521.43 L1353.21,520.96 L1353.71,520.49 L1354.20,520.01 L1354.69,519.52 L1355.17,519.03 L1355.64,518.54 L1356.11,518.04 L1356.57,517.53 L1357.02,517.02 L1357.47,516.51 L1357.91,515.99 L1358.35,515.47 L1358.77,514.94 L1359.20,514.40 L1359.61,513.86 L1360.02,513.32 L1360.42,512.77 L1360.82,512.22 L1361.21,511.66 L1361.59,511.09 L1361.97,510.52 L1362.34,509.95 L1362.70,509.37 L1363.06,508.79 L1363.41,508.20 L1363.76,507.60 L1364.09,507.00 L1364.42,506.40 L1364.75,505.79 L1365.07,505.17 L1365.38,504.55 L1365.69,503.93 L1365.99,503.30 L1366.28,502.67 L1366.57,502.03 L1366.85,501.39 L1367.12,500.74 L1367.39,500.09 L1367.65,499.43 L1367.90,498.77 L1368.15,498.10 L1368.39,497.43 L1368.63,496.76 L1368.86,496.08 L1369.08,495.39 L1369.29,494.71 L1369.50,494.02 L1369.71,493.32 L1369.90,492.63 L1370.09,491.92 L1370.28,491.22 L1370.45,490.51 L1370.62,489.80 L1370.79,489.09 L1370.95,488.37 L1371.10,487.66 L1371.24,486.94 L1371.38,486.22 L1371.51,485.49 L1371.64,484.77 L1371.76,484.05 L1371.87,483.32 L1371.98,482.60 L1372.08,481.87 L1372.17,481.15 L1372.26,480.43 L1372.34,479.72 L1372.41,479.00 L1372.48,478.29 L1372.54,477.59 L1372.59,476.89 L1372.64,476.21 L1372.68,475.53 L1372.72,474.87 L1372.75,474.22 L1372.77,473.60 L1372.79,473.00 L1372.80,472.46 L1372.80,472.01 L1372.80,472.24 L1372.81,472.85 L1372.82,473.49 L1372.84,474.16 L1372.87,474.84 L1372.90,475.53 L1372.93,476.23 L1372.97,476.94 L1373.01,477.65 L1373.07,478.36 L1373.12,479.07 L1373.18,479.79 L1373.25,480.51 L1373.32,481.23 L1373.40,481.95 L1373.48,482.67 L1373.57,483.38 L1373.66,484.10 L1373.76,484.81 L1373.86,485.53 L1373.97,486.24 L1374.08,486.94 L1374.20,487.65 L1374.33,488.35 L1374.46,489.05 L1374.59,489.75 L1374.73,490.45 L1374.88,491.14 L1375.03,491.83 L1375.19,492.51 L1375.35,493.19 L1375.52,493.87 L1375.69,494.54 L1375.87,495.21 L1376.05,495.88 L1376.24,496.54 L1376.43,497.20 L1376.63,497.85 L1376.84,498.50 L1377.05,499.15 L1377.26,499.79 L1377.48,500.43 L1377.71,501.06 L1377.94,501.69 L1378.17,502.31 L1378.41,502.94 L1378.66,503.55 L1378.91,504.16 L1379.17,504.77 L1379.43,505.37 L1379.70,505.97 L1379.97,506.57 L1380.25,507.16 L1380.54,507.74 L1380.83,508.33 L1381.12,508.90 L1381.42,509.48 L1381.73,510.04 L1382.04,510.61 L1382.35,511.17 L1382.67,511.72 L1383.00,512.27 L1383.33,512.82 L1383.67,513.36 L1384.01,513.90 L1384.36,514.43 L1384.71,514.96 L1385.07,515.49 L1385.43,516.01 L1385.80,516.52 L1386.18,517.04 L1386.55,517.54 L1386.94,518.05 L1387.33,518.55 L1387.72,519.04 L1388.13,519.53 L1388.53,520.02 L1388.94,520.50 L1389.36,520.98 L1389.78,521.46 L1390.21,521.93 L1390.64,522.39 L1391.08,522.86 L1391.52,523.32 L1391.97,523.77 L1392.42,524.22 L1392.88,524.67 L1393.35,525.11 L1393.82,525.55 L1394.29,525.98 L1394.77,526.41 L1395.26,526.84 L1395.75,527.26 L1396.24,527.68 L1396.75,528.10 L1397.25,528.51 L1397.77,528.92 L1398.28,529.32 L1398.81,529.73 L1399.33,530.12 L1399.87,530.52 L1400.41,530.91 L1400.95,531.29 L1401.50,531.68 L1402.05,532.06 L1402.61,532.43 L1403.18,532.80 L1403.75,533.17 L1404.32,533.54 L1404.91,533.90 L1405.49,534.26 L1406.08,534.61 L1406.68,534.97 L1407.28,535.32 L1407.89,535.66 L1408.50,536.00 L1409.12,536.34 L1409.75,536.68 L1410.37,537.01 L1411.01,537.34 L1411.65,537.67 L1412.29,537.99 L1412.94,538.31 L1413.60,538.63 L1414.26,538.94 L1414.92,539.25 L1415.60,539.56 L1416.27,539.86 L1416.95,540.17 L1417.64,540.46 L1418.33,540.76 L1419.03,541.05 L1419.73,541.34 L1420.44,541.63 L1421.16,541.92 L1421.88,542.20 L1422.60,542.48 L1423.33,542.76 L1424.07,543.03 L1424.81,543.30 L1425.55,543.57 L1426.30,543.83 L1427.06,544.10 L1427.82,544.36 L1428.59,544.62 L1429.36,544.87 L1430.14,545.12 L1430.92,545.37 L1431.71,545.62 L1432.50,545.87 L1432.50,580.70Z" fill="#f0f0f6"/>
<path d="M1214.50,580.70 L1214.50,462.30 L1215.50,462.30 L1218.50,462.00 L1221.20,463.20 L1223.30,466.00 L1225.20,471.50 L1228.50,483.80 L1232.30,500.50 L1236.10,515.70 L1239.90,533.90 L1243.00,546.10 L1246.00,558.20 L1249.80,576.40 L1250.60,580.00 L1250.60,580.70Z" fill="#e0e4f1"/>
<clipPath id="clipfl0"><rect x="1200" y="551.4" width="80" height="29.300000000000068"/></clipPath>
<path clip-path="url(#clipfl0)" d="M1214.50,580.70 L1214.50,462.30 L1215.50,462.30 L1218.50,462.00 L1221.20,463.20 L1223.30,466.00 L1225.20,471.50 L1228.50,483.80 L1232.30,500.50 L1236.10,515.70 L1239.90,533.90 L1243.00,546.10 L1246.00,558.20 L1249.80,576.40 L1250.60,580.00 L1250.60,580.70Z" fill="#a2aed6"/>
<line x1="1228.60" y1="464.50" x2="1228.60" y2="580.70" stroke="#f4bdb8" stroke-width="2.7"/>
<line x1="1242.90" y1="464.50" x2="1242.90" y2="580.70" stroke="#f4bdb8" stroke-width="2.7"/>
<line x1="1429.00" y1="464.50" x2="1429.00" y2="580.70" stroke="#f4bdb8" stroke-width="2.7"/>
<path d="M1244.00,551.10 L1245.28,551.10 L1246.56,551.10 L1247.84,551.10 L1249.10,551.10 L1250.36,551.10 L1251.61,551.10 L1252.86,551.10 L1254.10,551.09 L1255.33,550.97 L1256.56,550.85 L1257.78,550.72 L1258.99,550.60 L1260.20,550.47 L1261.40,550.34 L1262.60,550.21 L1263.78,550.08 L1264.97,549.95 L1266.14,549.81 L1267.31,549.68 L1268.47,549.54 L1269.63,549.40 L1270.78,549.25 L1271.92,549.11 L1273.06,548.96 L1274.19,548.82 L1275.31,548.67 L1276.43,548.51 L1277.54,548.36 L1278.64,548.20 L1279.74,548.05 L1280.83,547.88 L1281.92,547.72 L1283.00,547.56 L1284.07,547.39 L1285.14,547.22 L1286.19,547.05 L1287.25,546.88 L1288.29,546.70 L1289.33,546.52 L1290.37,546.34 L1291.40,546.16 L1292.42,545.98 L1293.43,545.79 L1294.44,545.60 L1295.44,545.41 L1296.43,545.21 L1297.42,545.02 L1298.41,544.82 L1299.38,544.62 L1300.35,544.41 L1301.31,544.20 L1302.27,543.99 L1303.22,543.78 L1304.16,543.57 L1305.10,543.35 L1306.03,543.13 L1306.95,542.91 L1307.87,542.68 L1308.78,542.45 L1309.69,542.22 L1310.59,541.98 L1311.48,541.75 L1312.36,541.51 L1313.24,541.26 L1314.12,541.02 L1314.98,540.77 L1315.84,540.51 L1316.69,540.26 L1317.54,540.00 L1318.38,539.74 L1319.22,539.47 L1320.04,539.20 L1320.86,538.93 L1321.68,538.66 L1322.49,538.38 L1323.29,538.10 L1324.08,537.81 L1324.87,537.52 L1325.66,537.23 L1326.43,536.94 L1327.20,536.64 L1327.96,536.34 L1328.72,536.03 L1329.47,535.72 L1330.22,535.41 L1330.95,535.09 L1331.68,534.77 L1332.41,534.44 L1333.13,534.12 L1333.84,533.78 L1334.54,533.45 L1335.24,533.11 L1335.93,532.77 L1336.62,532.42 L1337.30,532.07 L1337.97,531.71 L1338.64,531.35 L1339.30,530.99 L1339.95,530.62 L1340.60,530.25 L1341.24,529.87 L1341.88,529.49 L1342.50,529.11 L1343.12,528.72 L1343.74,528.33 L1344.35,527.93 L1344.95,527.53 L1345.55,527.12 L1346.14,526.71 L1346.72,526.30 L1347.29,525.88 L1347.86,525.45 L1348.43,525.03 L1348.98,524.59 L1349.54,524.16 L1350.08,523.71 L1350.62,523.27 L1351.15,522.81 L1351.67,522.36 L1352.19,521.90 L1352.70,521.43 L1353.21,520.96 L1353.71,520.49 L1354.20,520.01 L1354.69,519.52 L1355.17,519.03 L1355.64,518.54 L1356.11,518.04 L1356.57,517.53 L1357.02,517.02 L1357.47,516.51 L1357.91,515.99 L1358.35,515.47 L1358.77,514.94 L1359.20,514.40 L1359.61,513.86 L1360.02,513.32 L1360.42,512.77 L1360.82,512.22 L1361.21,511.66 L1361.59,511.09 L1361.97,510.52 L1362.34,509.95 L1362.70,509.37 L1363.06,508.79 L1363.41,508.20 L1363.76,507.60 L1364.09,507.00 L1364.42,506.40 L1364.75,505.79 L1365.07,505.17 L1365.38,504.55 L1365.69,503.93 L1365.99,503.30 L1366.28,502.67 L1366.57,502.03 L1366.85,501.39 L1367.12,500.74 L1367.39,500.09 L1367.65,499.43 L1367.90,498.77 L1368.15,498.10 L1368.39,497.43 L1368.63,496.76 L1368.86,496.08 L1369.08,495.39 L1369.29,494.71 L1369.50,494.02 L1369.71,493.32 L1369.90,492.63 L1370.09,491.92 L1370.28,491.22 L1370.45,490.51 L1370.62,489.80 L1370.79,489.09 L1370.95,488.37 L1371.10,487.66 L1371.24,486.94 L1371.38,486.22 L1371.51,485.49 L1371.64,484.77 L1371.76,484.05 L1371.87,483.32 L1371.98,482.60 L1372.08,481.87 L1372.17,481.15 L1372.26,480.43 L1372.34,479.72 L1372.41,479.00 L1372.48,478.29 L1372.54,477.59 L1372.59,476.89 L1372.64,476.21 L1372.68,475.53 L1372.72,474.87 L1372.75,474.22 L1372.77,473.60 L1372.79,473.00 L1372.80,472.46 L1372.80,472.01 L1372.80,472.24 L1372.81,472.85 L1372.82,473.49 L1372.84,474.16 L1372.87,474.84 L1372.90,475.53 L1372.93,476.23 L1372.97,476.94 L1373.01,477.65 L1373.07,478.36 L1373.12,479.07 L1373.18,479.79 L1373.25,480.51 L1373.32,481.23 L1373.40,481.95 L1373.48,482.67 L1373.57,483.38 L1373.66,484.10 L1373.76,484.81 L1373.86,485.53 L1373.97,486.24 L1374.08,486.94 L1374.20,487.65 L1374.33,488.35 L1374.46,489.05 L1374.59,489.75 L1374.73,490.45 L1374.88,491.14 L1375.03,491.83 L1375.19,492.51 L1375.35,493.19 L1375.52,493.87 L1375.69,494.54 L1375.87,495.21 L1376.05,495.88 L1376.24,496.54 L1376.43,497.20 L1376.63,497.85 L1376.84,498.50 L1377.05,499.15 L1377.26,499.79 L1377.48,500.43 L1377.71,501.06 L1377.94,501.69 L1378.17,502.31 L1378.41,502.94 L1378.66,503.55 L1378.91,504.16 L1379.17,504.77 L1379.43,505.37 L1379.70,505.97 L1379.97,506.57 L1380.25,507.16 L1380.54,507.74 L1380.83,508.33 L1381.12,508.90 L1381.42,509.48 L1381.73,510.04 L1382.04,510.61 L1382.35,511.17 L1382.67,511.72 L1383.00,512.27 L1383.33,512.82 L1383.67,513.36 L1384.01,513.90 L1384.36,514.43 L1384.71,514.96 L1385.07,515.49 L1385.43,516.01 L1385.80,516.52 L1386.18,517.04 L1386.55,517.54 L1386.94,518.05 L1387.33,518.55 L1387.72,519.04 L1388.13,519.53 L1388.53,520.02 L1388.94,520.50 L1389.36,520.98 L1389.78,521.46 L1390.21,521.93 L1390.64,522.39 L1391.08,522.86 L1391.52,523.32 L1391.97,523.77 L1392.42,524.22 L1392.88,524.67 L1393.35,525.11 L1393.82,525.55 L1394.29,525.98 L1394.77,526.41 L1395.26,526.84 L1395.75,527.26 L1396.24,527.68 L1396.75,528.10 L1397.25,528.51 L1397.77,528.92 L1398.28,529.32 L1398.81,529.73 L1399.33,530.12 L1399.87,530.52 L1400.41,530.91 L1400.95,531.29 L1401.50,531.68 L1402.05,532.06 L1402.61,532.43 L1403.18,532.80 L1403.75,533.17 L1404.32,533.54 L1404.91,533.90 L1405.49,534.26 L1406.08,534.61 L1406.68,534.97 L1407.28,535.32 L1407.89,535.66 L1408.50,536.00 L1409.12,536.34 L1409.75,536.68 L1410.37,537.01 L1411.01,537.34 L1411.65,537.67 L1412.29,537.99 L1412.94,538.31 L1413.60,538.63 L1414.26,538.94 L1414.92,539.25 L1415.60,539.56 L1416.27,539.86 L1416.95,540.17 L1417.64,540.46 L1418.33,540.76 L1419.03,541.05 L1419.73,541.34 L1420.44,541.63 L1421.16,541.92 L1421.88,542.20 L1422.60,542.48 L1423.33,542.76 L1424.07,543.03 L1424.81,543.30 L1425.55,543.57 L1426.30,543.83 L1427.06,544.10 L1427.82,544.36 L1428.59,544.62 L1429.36,544.87 L1430.14,545.12 L1430.92,545.37 L1431.71,545.62 L1432.50,545.87" fill="none" stroke="#a3a3a3" stroke-width="2.9"/>
<path d="M1215.50,462.30 L1218.50,462.00 L1221.20,463.20 L1223.30,466.00 L1225.20,471.50 L1228.50,483.80 L1232.30,500.50 L1236.10,515.70 L1239.90,533.90 L1243.00,546.10 L1246.00,558.20 L1249.80,576.40" fill="none" stroke="#6f86c6" stroke-width="2.7" stroke-dasharray="2.7 2.7"/>
<line x1="1216" y1="551.4" x2="1433" y2="551.4" stroke="#000" stroke-width="2.7" stroke-dasharray="3.1 2.7"/>
<line x1="1215.5" y1="463.4" x2="1215.5" y2="580.7" stroke="#d72814" stroke-width="2.9"/>
<line x1="1228.6" y1="493.7" x2="1228.6" y2="580.7" stroke="#d72814" stroke-width="2.9"/>
<line x1="1242.9" y1="550.0" x2="1242.9" y2="580.7" stroke="#d72814" stroke-width="2.9"/>
<path d="M1211.9,452.05000000000007 L1211.9,580.7 L1442.9750000000001,580.7" fill="none" stroke="#000" stroke-width="4.4" stroke-linejoin="miter"/>
<path d="M1211.9,429.6 L1198.1000000000001,460.20000000000005 L1211.9,452.55000000000007 L1225.7,460.20000000000005Z" fill="#000"/>
<path d="M1467.3,580.7 L1434.2,569.25 L1442.4750000000001,580.7 L1434.2,592.1500000000001Z" fill="#000"/>
<text y="456.6" fill="#DA290E" font-size="28" font-family="Liberation Sans, sans-serif"><tspan x="1245.0" font-family="DejaVu Sans, sans-serif">Δ</tspan><tspan x="1265.0" font-family="DejaVu Serif, serif" font-style="italic" font-size="27">f</tspan><tspan x="1287.0">=</tspan><tspan x="1311.9">10</tspan><tspan x="1349.9">Hz</tspan></text>
<text x="1302.5" y="611.9" font-family="Liberation Sans, sans-serif" font-size="28">Frequency</text>
<text transform="translate(1194.5,489) rotate(-90)" font-family="Liberation Sans, sans-serif" font-size="28" text-anchor="middle">PSD</text>
<path d="M1216.00,780.70 L1216.00,751.40 L1245.50,751.40 L1245.50,751.10 L1246.78,751.10 L1248.06,751.10 L1249.34,751.10 L1250.60,751.10 L1251.86,751.10 L1253.11,751.10 L1254.36,751.10 L1255.60,751.09 L1256.83,750.97 L1258.06,750.85 L1259.28,750.72 L1260.49,750.60 L1261.70,750.47 L1262.90,750.34 L1264.10,750.21 L1265.28,750.08 L1266.47,749.95 L1267.64,749.81 L1268.81,749.68 L1269.97,749.54 L1271.13,749.40 L1272.28,749.25 L1273.42,749.11 L1274.56,748.96 L1275.69,748.82 L1276.81,748.67 L1277.93,748.51 L1279.04,748.36 L1280.14,748.20 L1281.24,748.05 L1282.33,747.88 L1283.42,747.72 L1284.50,747.56 L1285.57,747.39 L1286.64,747.22 L1287.69,747.05 L1288.75,746.88 L1289.79,746.70 L1290.83,746.52 L1291.87,746.34 L1292.90,746.16 L1293.92,745.98 L1294.93,745.79 L1295.94,745.60 L1296.94,745.41 L1297.93,745.21 L1298.92,745.02 L1299.91,744.82 L1300.88,744.62 L1301.85,744.41 L1302.81,744.20 L1303.77,743.99 L1304.72,743.78 L1305.66,743.57 L1306.60,743.35 L1307.53,743.13 L1308.45,742.91 L1309.37,742.68 L1310.28,742.45 L1311.19,742.22 L1312.09,741.98 L1312.98,741.75 L1313.86,741.51 L1314.74,741.26 L1315.62,741.02 L1316.48,740.77 L1317.34,740.51 L1318.19,740.26 L1319.04,740.00 L1319.88,739.74 L1320.72,739.47 L1321.54,739.20 L1322.36,738.93 L1323.18,738.66 L1323.99,738.38 L1324.79,738.10 L1325.58,737.81 L1326.37,737.52 L1327.16,737.23 L1327.93,736.94 L1328.70,736.64 L1329.46,736.34 L1330.22,736.03 L1330.97,735.72 L1331.72,735.41 L1332.45,735.09 L1333.18,734.77 L1333.91,734.44 L1334.63,734.12 L1335.34,733.78 L1336.04,733.45 L1336.74,733.11 L1337.43,732.77 L1338.12,732.42 L1338.80,732.07 L1339.47,731.71 L1340.14,731.35 L1340.80,730.99 L1341.45,730.62 L1342.10,730.25 L1342.74,729.87 L1343.38,729.49 L1344.00,729.11 L1344.62,728.72 L1345.24,728.33 L1345.85,727.93 L1346.45,727.53 L1347.05,727.12 L1347.64,726.71 L1348.22,726.30 L1348.79,725.88 L1349.36,725.45 L1349.93,725.03 L1350.48,724.59 L1351.04,724.16 L1351.58,723.71 L1352.12,723.27 L1352.65,722.81 L1353.17,722.36 L1353.69,721.90 L1354.20,721.43 L1354.71,720.96 L1355.21,720.49 L1355.70,720.01 L1356.19,719.52 L1356.67,719.03 L1357.14,718.54 L1357.61,718.04 L1358.07,717.53 L1358.52,717.02 L1358.97,716.51 L1359.41,715.99 L1359.85,715.47 L1360.27,714.94 L1360.70,714.40 L1361.11,713.86 L1361.52,713.32 L1361.92,712.77 L1362.32,712.22 L1362.71,711.66 L1363.09,711.09 L1363.47,710.52 L1363.84,709.95 L1364.20,709.37 L1364.56,708.79 L1364.91,708.20 L1365.26,707.60 L1365.59,707.00 L1365.92,706.40 L1366.25,705.79 L1366.57,705.17 L1366.88,704.55 L1367.19,703.93 L1367.49,703.30 L1367.78,702.67 L1368.07,702.03 L1368.35,701.39 L1368.62,700.74 L1368.89,700.09 L1369.15,699.43 L1369.40,698.77 L1369.65,698.10 L1369.89,697.43 L1370.13,696.76 L1370.36,696.08 L1370.58,695.39 L1370.79,694.71 L1371.00,694.02 L1371.21,693.32 L1371.40,692.63 L1371.59,691.92 L1371.78,691.22 L1371.95,690.51 L1372.12,689.80 L1372.29,689.09 L1372.45,688.37 L1372.60,687.66 L1372.74,686.94 L1372.88,686.22 L1373.01,685.49 L1373.14,684.77 L1373.26,684.05 L1373.37,683.32 L1373.48,682.60 L1373.58,681.87 L1373.67,681.15 L1373.76,680.43 L1373.84,679.72 L1373.91,679.00 L1373.98,678.29 L1374.04,677.59 L1374.09,676.89 L1374.14,676.21 L1374.18,675.53 L1374.22,674.87 L1374.25,674.22 L1374.27,673.60 L1374.29,673.00 L1374.30,672.46 L1374.30,672.01 L1374.30,672.24 L1374.31,672.85 L1374.32,673.49 L1374.34,674.16 L1374.37,674.84 L1374.40,675.53 L1374.43,676.23 L1374.47,676.94 L1374.51,677.65 L1374.57,678.36 L1374.62,679.07 L1374.68,679.79 L1374.75,680.51 L1374.82,681.23 L1374.90,681.95 L1374.98,682.67 L1375.07,683.38 L1375.16,684.10 L1375.26,684.81 L1375.36,685.53 L1375.47,686.24 L1375.58,686.94 L1375.70,687.65 L1375.83,688.35 L1375.96,689.05 L1376.09,689.75 L1376.23,690.45 L1376.38,691.14 L1376.53,691.83 L1376.69,692.51 L1376.85,693.19 L1377.02,693.87 L1377.19,694.54 L1377.37,695.21 L1377.55,695.88 L1377.74,696.54 L1377.93,697.20 L1378.13,697.85 L1378.34,698.50 L1378.55,699.15 L1378.76,699.79 L1378.98,700.43 L1379.21,701.06 L1379.44,701.69 L1379.67,702.31 L1379.91,702.94 L1380.16,703.55 L1380.41,704.16 L1380.67,704.77 L1380.93,705.37 L1381.20,705.97 L1381.47,706.57 L1381.75,707.16 L1382.04,707.74 L1382.33,708.33 L1382.62,708.90 L1382.92,709.48 L1383.23,710.04 L1383.54,710.61 L1383.85,711.17 L1384.17,711.72 L1384.50,712.27 L1384.83,712.82 L1385.17,713.36 L1385.51,713.90 L1385.86,714.43 L1386.21,714.96 L1386.57,715.49 L1386.93,716.01 L1387.30,716.52 L1387.68,717.04 L1388.05,717.54 L1388.44,718.05 L1388.83,718.55 L1389.22,719.04 L1389.63,719.53 L1390.03,720.02 L1390.44,720.50 L1390.86,720.98 L1391.28,721.46 L1391.71,721.93 L1392.14,722.39 L1392.58,722.86 L1393.02,723.32 L1393.47,723.77 L1393.92,724.22 L1394.38,724.67 L1394.85,725.11 L1395.32,725.55 L1395.79,725.98 L1396.27,726.41 L1396.76,726.84 L1397.25,727.26 L1397.74,727.68 L1398.25,728.10 L1398.75,728.51 L1399.27,728.92 L1399.78,729.32 L1400.31,729.73 L1400.83,730.12 L1401.37,730.52 L1401.91,730.91 L1402.45,731.29 L1403.00,731.68 L1403.55,732.06 L1404.11,732.43 L1404.68,732.80 L1405.25,733.17 L1405.82,733.54 L1406.41,733.90 L1406.99,734.26 L1407.58,734.61 L1408.18,734.97 L1408.78,735.32 L1409.39,735.66 L1410.00,736.00 L1410.62,736.34 L1411.25,736.68 L1411.87,737.01 L1412.51,737.34 L1413.15,737.67 L1413.79,737.99 L1414.44,738.31 L1415.10,738.63 L1415.76,738.94 L1416.42,739.25 L1417.10,739.56 L1417.77,739.86 L1418.45,740.17 L1419.14,740.46 L1419.83,740.76 L1420.53,741.05 L1421.23,741.34 L1421.94,741.63 L1422.66,741.92 L1423.38,742.20 L1424.10,742.48 L1424.83,742.76 L1425.57,743.03 L1426.31,743.30 L1427.05,743.57 L1427.80,743.83 L1428.56,744.10 L1429.32,744.36 L1430.09,744.62 L1430.86,744.87 L1431.64,745.12 L1432.42,745.37 L1433.21,745.62 L1434.00,745.87 L1434.00,780.70Z" fill="#f0f0f6"/>
<path d="M1216.00,780.70 L1216.00,662.30 L1217.00,662.30 L1220.00,662.00 L1222.70,663.20 L1224.80,666.00 L1226.70,671.50 L1230.00,683.80 L1233.80,700.50 L1237.60,715.70 L1241.40,733.90 L1244.50,746.10 L1247.50,758.20 L1251.30,776.40 L1252.10,780.00 L1252.10,780.70Z" fill="#e0e4f1"/>
<clipPath id="clipfl200"><rect x="1201.5" y="751.4" width="80" height="29.300000000000068"/></clipPath>
<path clip-path="url(#clipfl200)" d="M1216.00,780.70 L1216.00,662.30 L1217.00,662.30 L1220.00,662.00 L1222.70,663.20 L1224.80,666.00 L1226.70,671.50 L1230.00,683.80 L1233.80,700.50 L1237.60,715.70 L1241.40,733.90 L1244.50,746.10 L1247.50,758.20 L1251.30,776.40 L1252.10,780.00 L1252.10,780.70Z" fill="#a2aed6"/>
<line x1="1253.00" y1="664.50" x2="1253.00" y2="780.70" stroke="#f4bdb8" stroke-width="2.7"/>
<line x1="1289.60" y1="664.50" x2="1289.60" y2="780.70" stroke="#f4bdb8" stroke-width="2.7"/>
<line x1="1430.50" y1="664.50" x2="1430.50" y2="780.70" stroke="#f4bdb8" stroke-width="2.7"/>
<path d="M1245.50,751.10 L1246.78,751.10 L1248.06,751.10 L1249.34,751.10 L1250.60,751.10 L1251.86,751.10 L1253.11,751.10 L1254.36,751.10 L1255.60,751.09 L1256.83,750.97 L1258.06,750.85 L1259.28,750.72 L1260.49,750.60 L1261.70,750.47 L1262.90,750.34 L1264.10,750.21 L1265.28,750.08 L1266.47,749.95 L1267.64,749.81 L1268.81,749.68 L1269.97,749.54 L1271.13,749.40 L1272.28,749.25 L1273.42,749.11 L1274.56,748.96 L1275.69,748.82 L1276.81,748.67 L1277.93,748.51 L1279.04,748.36 L1280.14,748.20 L1281.24,748.05 L1282.33,747.88 L1283.42,747.72 L1284.50,747.56 L1285.57,747.39 L1286.64,747.22 L1287.69,747.05 L1288.75,746.88 L1289.79,746.70 L1290.83,746.52 L1291.87,746.34 L1292.90,746.16 L1293.92,745.98 L1294.93,745.79 L1295.94,745.60 L1296.94,745.41 L1297.93,745.21 L1298.92,745.02 L1299.91,744.82 L1300.88,744.62 L1301.85,744.41 L1302.81,744.20 L1303.77,743.99 L1304.72,743.78 L1305.66,743.57 L1306.60,743.35 L1307.53,743.13 L1308.45,742.91 L1309.37,742.68 L1310.28,742.45 L1311.19,742.22 L1312.09,741.98 L1312.98,741.75 L1313.86,741.51 L1314.74,741.26 L1315.62,741.02 L1316.48,740.77 L1317.34,740.51 L1318.19,740.26 L1319.04,740.00 L1319.88,739.74 L1320.72,739.47 L1321.54,739.20 L1322.36,738.93 L1323.18,738.66 L1323.99,738.38 L1324.79,738.10 L1325.58,737.81 L1326.37,737.52 L1327.16,737.23 L1327.93,736.94 L1328.70,736.64 L1329.46,736.34 L1330.22,736.03 L1330.97,735.72 L1331.72,735.41 L1332.45,735.09 L1333.18,734.77 L1333.91,734.44 L1334.63,734.12 L1335.34,733.78 L1336.04,733.45 L1336.74,733.11 L1337.43,732.77 L1338.12,732.42 L1338.80,732.07 L1339.47,731.71 L1340.14,731.35 L1340.80,730.99 L1341.45,730.62 L1342.10,730.25 L1342.74,729.87 L1343.38,729.49 L1344.00,729.11 L1344.62,728.72 L1345.24,728.33 L1345.85,727.93 L1346.45,727.53 L1347.05,727.12 L1347.64,726.71 L1348.22,726.30 L1348.79,725.88 L1349.36,725.45 L1349.93,725.03 L1350.48,724.59 L1351.04,724.16 L1351.58,723.71 L1352.12,723.27 L1352.65,722.81 L1353.17,722.36 L1353.69,721.90 L1354.20,721.43 L1354.71,720.96 L1355.21,720.49 L1355.70,720.01 L1356.19,719.52 L1356.67,719.03 L1357.14,718.54 L1357.61,718.04 L1358.07,717.53 L1358.52,717.02 L1358.97,716.51 L1359.41,715.99 L1359.85,715.47 L1360.27,714.94 L1360.70,714.40 L1361.11,713.86 L1361.52,713.32 L1361.92,712.77 L1362.32,712.22 L1362.71,711.66 L1363.09,711.09 L1363.47,710.52 L1363.84,709.95 L1364.20,709.37 L1364.56,708.79 L1364.91,708.20 L1365.26,707.60 L1365.59,707.00 L1365.92,706.40 L1366.25,705.79 L1366.57,705.17 L1366.88,704.55 L1367.19,703.93 L1367.49,703.30 L1367.78,702.67 L1368.07,702.03 L1368.35,701.39 L1368.62,700.74 L1368.89,700.09 L1369.15,699.43 L1369.40,698.77 L1369.65,698.10 L1369.89,697.43 L1370.13,696.76 L1370.36,696.08 L1370.58,695.39 L1370.79,694.71 L1371.00,694.02 L1371.21,693.32 L1371.40,692.63 L1371.59,691.92 L1371.78,691.22 L1371.95,690.51 L1372.12,689.80 L1372.29,689.09 L1372.45,688.37 L1372.60,687.66 L1372.74,686.94 L1372.88,686.22 L1373.01,685.49 L1373.14,684.77 L1373.26,684.05 L1373.37,683.32 L1373.48,682.60 L1373.58,681.87 L1373.67,681.15 L1373.76,680.43 L1373.84,679.72 L1373.91,679.00 L1373.98,678.29 L1374.04,677.59 L1374.09,676.89 L1374.14,676.21 L1374.18,675.53 L1374.22,674.87 L1374.25,674.22 L1374.27,673.60 L1374.29,673.00 L1374.30,672.46 L1374.30,672.01 L1374.30,672.24 L1374.31,672.85 L1374.32,673.49 L1374.34,674.16 L1374.37,674.84 L1374.40,675.53 L1374.43,676.23 L1374.47,676.94 L1374.51,677.65 L1374.57,678.36 L1374.62,679.07 L1374.68,679.79 L1374.75,680.51 L1374.82,681.23 L1374.90,681.95 L1374.98,682.67 L1375.07,683.38 L1375.16,684.10 L1375.26,684.81 L1375.36,685.53 L1375.47,686.24 L1375.58,686.94 L1375.70,687.65 L1375.83,688.35 L1375.96,689.05 L1376.09,689.75 L1376.23,690.45 L1376.38,691.14 L1376.53,691.83 L1376.69,692.51 L1376.85,693.19 L1377.02,693.87 L1377.19,694.54 L1377.37,695.21 L1377.55,695.88 L1377.74,696.54 L1377.93,697.20 L1378.13,697.85 L1378.34,698.50 L1378.55,699.15 L1378.76,699.79 L1378.98,700.43 L1379.21,701.06 L1379.44,701.69 L1379.67,702.31 L1379.91,702.94 L1380.16,703.55 L1380.41,704.16 L1380.67,704.77 L1380.93,705.37 L1381.20,705.97 L1381.47,706.57 L1381.75,707.16 L1382.04,707.74 L1382.33,708.33 L1382.62,708.90 L1382.92,709.48 L1383.23,710.04 L1383.54,710.61 L1383.85,711.17 L1384.17,711.72 L1384.50,712.27 L1384.83,712.82 L1385.17,713.36 L1385.51,713.90 L1385.86,714.43 L1386.21,714.96 L1386.57,715.49 L1386.93,716.01 L1387.30,716.52 L1387.68,717.04 L1388.05,717.54 L1388.44,718.05 L1388.83,718.55 L1389.22,719.04 L1389.63,719.53 L1390.03,720.02 L1390.44,720.50 L1390.86,720.98 L1391.28,721.46 L1391.71,721.93 L1392.14,722.39 L1392.58,722.86 L1393.02,723.32 L1393.47,723.77 L1393.92,724.22 L1394.38,724.67 L1394.85,725.11 L1395.32,725.55 L1395.79,725.98 L1396.27,726.41 L1396.76,726.84 L1397.25,727.26 L1397.74,727.68 L1398.25,728.10 L1398.75,728.51 L1399.27,728.92 L1399.78,729.32 L1400.31,729.73 L1400.83,730.12 L1401.37,730.52 L1401.91,730.91 L1402.45,731.29 L1403.00,731.68 L1403.55,732.06 L1404.11,732.43 L1404.68,732.80 L1405.25,733.17 L1405.82,733.54 L1406.41,733.90 L1406.99,734.26 L1407.58,734.61 L1408.18,734.97 L1408.78,735.32 L1409.39,735.66 L1410.00,736.00 L1410.62,736.34 L1411.25,736.68 L1411.87,737.01 L1412.51,737.34 L1413.15,737.67 L1413.79,737.99 L1414.44,738.31 L1415.10,738.63 L1415.76,738.94 L1416.42,739.25 L1417.10,739.56 L1417.77,739.86 L1418.45,740.17 L1419.14,740.46 L1419.83,740.76 L1420.53,741.05 L1421.23,741.34 L1421.94,741.63 L1422.66,741.92 L1423.38,742.20 L1424.10,742.48 L1424.83,742.76 L1425.57,743.03 L1426.31,743.30 L1427.05,743.57 L1427.80,743.83 L1428.56,744.10 L1429.32,744.36 L1430.09,744.62 L1430.86,744.87 L1431.64,745.12 L1432.42,745.37 L1433.21,745.62 L1434.00,745.87" fill="none" stroke="#a3a3a3" stroke-width="2.9"/>
<path d="M1217.00,662.30 L1220.00,662.00 L1222.70,663.20 L1224.80,666.00 L1226.70,671.50 L1230.00,683.80 L1233.80,700.50 L1237.60,715.70 L1241.40,733.90 L1244.50,746.10 L1247.50,758.20 L1251.30,776.40" fill="none" stroke="#6f86c6" stroke-width="2.7" stroke-dasharray="2.7 2.7"/>
<line x1="1217.5" y1="751.4" x2="1434.5" y2="751.4" stroke="#000" stroke-width="2.7" stroke-dasharray="3.1 2.7"/>
<line x1="1217.0" y1="663.4" x2="1217.0" y2="780.7" stroke="#d72814" stroke-width="2.9"/>
<path d="M1213.4,652.0500000000001 L1213.4,780.7 L1444.4750000000001,780.7" fill="none" stroke="#000" stroke-width="4.4" stroke-linejoin="miter"/>
<path d="M1213.4,629.6 L1199.6000000000001,660.2 L1213.4,652.5500000000001 L1227.2,660.2Z" fill="#000"/>
<path d="M1468.8,780.7 L1435.7,769.25 L1443.9750000000001,780.7 L1435.7,792.1500000000001Z" fill="#000"/>
<text y="656.6" fill="#6AAB46" font-size="28" font-family="Liberation Sans, sans-serif"><tspan x="1246.5" font-family="DejaVu Sans, sans-serif">Δ</tspan><tspan x="1266.5" font-family="DejaVu Serif, serif" font-style="italic" font-size="27">f</tspan><tspan x="1288.5">=</tspan><tspan x="1313.4">40</tspan><tspan x="1351.4">Hz</tspan></text>
<text x="1304.0" y="811.9" font-family="Liberation Sans, sans-serif" font-size="28">Frequency</text>
<text transform="translate(1196.0,689) rotate(-90)" font-family="Liberation Sans, sans-serif" font-size="28" text-anchor="middle">PSD</text>
<polygon points="1800.4,197.4 1810.5,195.4 1818.6,199.5 1825.7,201.5 1836.8,201.5 1841.9,190.4 1853.0,182.3 1858.8,176.5 1869.0,172.8 1875.6,161.9 1883.6,156.8 1892.4,150.2 1902.6,141.4 1914.3,132.6 1921.6,127.5 1926.0,132.6 1923.1,141.4 1914.3,148.7 1910.0,157.5 1910.0,169.2 1905.6,167.7 1898.2,164.8 1893.9,173.6 1886.5,179.4 1880.7,186.7 1879.2,194.0 1867.5,201.3 1858.8,207.2 1851.0,218.7 1840.9,228.8 1830.7,238.9 1824.7,245.0 1821.6,255.1 1821.6,269.3 1820.6,281.5 1819.6,291.6 1818.6,301.7 1815.5,305.7 1810.5,299.7 1804.4,291.6 1796.3,283.5 1788.2,279.4 1786.2,273.4 1792.3,267.3 1798.3,251.1 1798.3,236.9 1796.3,226.8 1793.3,211.6 1797.3,203.5" fill="#1f77b4" stroke="#1f77b4" stroke-width="2" stroke-linejoin="round"/>
<circle cx="1803.8" cy="200.5" r="4.2" fill="#1f77b4"/>
<circle cx="1810.6" cy="197.1" r="4.2" fill="#1f77b4"/>
<circle cx="1815.2" cy="201.5" r="4.2" fill="#1f77b4"/>
<circle cx="1823.0" cy="201.7" r="4.2" fill="#1f77b4"/>
<circle cx="1825.8" cy="203.5" r="4.2" fill="#1f77b4"/>
<circle cx="1835.4" cy="203.0" r="4.2" fill="#1f77b4"/>
<circle cx="1839.7" cy="199.5" r="4.2" fill="#1f77b4"/>
<circle cx="1845.4" cy="193.0" r="4.2" fill="#1f77b4"/>
<circle cx="1846.8" cy="192.4" r="4.2" fill="#1f77b4"/>
<circle cx="1850.0" cy="189.1" r="4.2" fill="#1f77b4"/>
<circle cx="1858.9" cy="178.0" r="4.2" fill="#1f77b4"/>
<circle cx="1863.3" cy="177.8" r="4.2" fill="#1f77b4"/>
<circle cx="1869.2" cy="174.1" r="4.2" fill="#1f77b4"/>
<circle cx="1874.2" cy="171.9" r="4.2" fill="#1f77b4"/>
<circle cx="1875.9" cy="164.8" r="4.2" fill="#1f77b4"/>
<circle cx="1878.5" cy="165.1" r="4.2" fill="#1f77b4"/>
<circle cx="1888.4" cy="158.8" r="4.2" fill="#1f77b4"/>
<circle cx="1890.9" cy="156.0" r="4.2" fill="#1f77b4"/>
<circle cx="1899.3" cy="149.8" r="4.2" fill="#1f77b4"/>
<circle cx="1898.9" cy="147.2" r="4.2" fill="#1f77b4"/>
<circle cx="1905.0" cy="144.0" r="4.2" fill="#1f77b4"/>
<circle cx="1913.1" cy="138.9" r="4.2" fill="#1f77b4"/>
<circle cx="1919.1" cy="133.6" r="4.2" fill="#1f77b4"/>
<circle cx="1924.3" cy="132.9" r="4.2" fill="#1f77b4"/>
<circle cx="1920.3" cy="136.1" r="4.2" fill="#1f77b4"/>
<circle cx="1919.5" cy="141.8" r="4.2" fill="#1f77b4"/>
<circle cx="1915.2" cy="143.2" r="4.2" fill="#1f77b4"/>
<circle cx="1910.9" cy="149.1" r="4.2" fill="#1f77b4"/>
<circle cx="1907.3" cy="160.7" r="4.2" fill="#1f77b4"/>
<circle cx="1906.9" cy="164.1" r="4.2" fill="#1f77b4"/>
<circle cx="1906.5" cy="166.1" r="4.2" fill="#1f77b4"/>
<circle cx="1904.7" cy="162.9" r="4.2" fill="#1f77b4"/>
<circle cx="1894.3" cy="169.2" r="4.2" fill="#1f77b4"/>
<circle cx="1891.7" cy="170.9" r="4.2" fill="#1f77b4"/>
<circle cx="1882.6" cy="180.5" r="4.2" fill="#1f77b4"/>
<circle cx="1877.3" cy="188.1" r="4.2" fill="#1f77b4"/>
<circle cx="1874.0" cy="195.2" r="4.2" fill="#1f77b4"/>
<circle cx="1870.6" cy="194.2" r="4.2" fill="#1f77b4"/>
<circle cx="1863.2" cy="203.5" r="4.2" fill="#1f77b4"/>
<circle cx="1858.9" cy="203.2" r="4.2" fill="#1f77b4"/>
<circle cx="1854.4" cy="207.6" r="4.2" fill="#1f77b4"/>
<circle cx="1848.8" cy="216.9" r="4.2" fill="#1f77b4"/>
<circle cx="1848.1" cy="219.8" r="4.2" fill="#1f77b4"/>
<circle cx="1843.9" cy="224.2" r="4.2" fill="#1f77b4"/>
<circle cx="1839.4" cy="228.4" r="4.2" fill="#1f77b4"/>
<circle cx="1829.6" cy="236.2" r="4.2" fill="#1f77b4"/>
<circle cx="1822.9" cy="240.9" r="4.2" fill="#1f77b4"/>
<circle cx="1822.8" cy="248.9" r="4.2" fill="#1f77b4"/>
<circle cx="1820.9" cy="254.5" r="4.2" fill="#1f77b4"/>
<circle cx="1817.7" cy="260.6" r="4.2" fill="#1f77b4"/>
<circle cx="1819.5" cy="266.9" r="4.2" fill="#1f77b4"/>
<circle cx="1820.7" cy="269.7" r="4.2" fill="#1f77b4"/>
<circle cx="1819.3" cy="279.2" r="4.2" fill="#1f77b4"/>
<circle cx="1818.8" cy="284.0" r="4.2" fill="#1f77b4"/>
<circle cx="1818.3" cy="287.2" r="4.2" fill="#1f77b4"/>
<circle cx="1816.8" cy="295.0" r="4.2" fill="#1f77b4"/>
<circle cx="1816.5" cy="298.4" r="4.2" fill="#1f77b4"/>
<circle cx="1814.9" cy="302.3" r="4.2" fill="#1f77b4"/>
<circle cx="1816.6" cy="300.2" r="4.2" fill="#1f77b4"/>
<circle cx="1809.3" cy="295.8" r="4.2" fill="#1f77b4"/>
<circle cx="1807.5" cy="293.6" r="4.2" fill="#1f77b4"/>
<circle cx="1803.4" cy="289.7" r="4.2" fill="#1f77b4"/>
<circle cx="1799.3" cy="282.6" r="4.2" fill="#1f77b4"/>
<circle cx="1794.7" cy="278.1" r="4.2" fill="#1f77b4"/>
<circle cx="1790.2" cy="276.5" r="4.2" fill="#1f77b4"/>
<circle cx="1793.8" cy="269.7" r="4.2" fill="#1f77b4"/>
<circle cx="1795.4" cy="264.7" r="4.2" fill="#1f77b4"/>
<circle cx="1799.6" cy="257.7" r="4.2" fill="#1f77b4"/>
<circle cx="1798.7" cy="255.5" r="4.2" fill="#1f77b4"/>
<circle cx="1800.9" cy="246.9" r="4.2" fill="#1f77b4"/>
<circle cx="1799.6" cy="240.3" r="4.2" fill="#1f77b4"/>
<circle cx="1801.0" cy="233.3" r="4.2" fill="#1f77b4"/>
<circle cx="1798.8" cy="227.5" r="4.2" fill="#1f77b4"/>
<circle cx="1798.3" cy="224.1" r="4.2" fill="#1f77b4"/>
<circle cx="1797.1" cy="218.6" r="4.2" fill="#1f77b4"/>
<circle cx="1795.8" cy="216.3" r="4.2" fill="#1f77b4"/>
<circle cx="1800.7" cy="205.3" r="4.2" fill="#1f77b4"/>
<circle cx="1801.9" cy="202.2" r="4.2" fill="#1f77b4"/>
<circle cx="1996.8" cy="65.3" r="4.2" fill="#1f77b4"/>
<circle cx="1950.9" cy="97.5" r="4.2" fill="#1f77b4"/>
<circle cx="1939.9" cy="107.0" r="4.2" fill="#1f77b4"/>
<circle cx="1930.4" cy="112.5" r="4.2" fill="#1f77b4"/>
<circle cx="1946.9" cy="120.6" r="4.2" fill="#1f77b4"/>
<circle cx="1934.1" cy="123.9" r="4.2" fill="#1f77b4"/>
<circle cx="1895.8" cy="135.3" r="4.2" fill="#1f77b4"/>
<circle cx="1924.6" cy="144.3" r="4.2" fill="#1f77b4"/>
<circle cx="1908.5" cy="170.6" r="4.2" fill="#1f77b4"/>
<circle cx="1892.4" cy="174.3" r="4.2" fill="#1f77b4"/>
<circle cx="1891.7" cy="212.7" r="4.2" fill="#1f77b4"/>
<circle cx="1874.3" cy="229.0" r="4.2" fill="#1f77b4"/>
<circle cx="1883.9" cy="247.0" r="4.2" fill="#1f77b4"/>
<circle cx="1893.1" cy="245.5" r="4.2" fill="#1f77b4"/>
<circle cx="1899.6" cy="238.0" r="4.2" fill="#1f77b4"/>
<circle cx="1900.2" cy="242.7" r="4.2" fill="#1f77b4"/>
<circle cx="1839.2" cy="247.0" r="4.2" fill="#1f77b4"/>
<circle cx="1855.2" cy="224.5" r="4.2" fill="#1f77b4"/>
<circle cx="1828.5" cy="254.0" r="4.2" fill="#1f77b4"/>
<circle cx="1828.5" cy="264.1" r="4.2" fill="#1f77b4"/>
<circle cx="1825.7" cy="283.5" r="4.2" fill="#1f77b4"/>
<circle cx="1808.8" cy="328.8" r="4.2" fill="#1f77b4"/>
<circle cx="1823.4" cy="331.6" r="4.2" fill="#1f77b4"/>
<circle cx="1821.5" cy="312.5" r="4.2" fill="#1f77b4"/>
<circle cx="1805.2" cy="304.6" r="4.2" fill="#1f77b4"/>
<circle cx="1800.4" cy="297.0" r="4.2" fill="#1f77b4"/>
<circle cx="1779.3" cy="281.5" r="4.2" fill="#1f77b4"/>
<circle cx="1793.9" cy="292.8" r="4.2" fill="#1f77b4"/>
<circle cx="1810.1" cy="174.6" r="4.2" fill="#1f77b4"/>
<circle cx="1804.0" cy="185.9" r="4.2" fill="#1f77b4"/>
<circle cx="1848.0" cy="174.6" r="4.2" fill="#1f77b4"/>
<circle cx="1826.7" cy="195.4" r="4.2" fill="#1f77b4"/>
<circle cx="1834.8" cy="196.4" r="4.2" fill="#1f77b4"/>
<circle cx="1794.3" cy="212.2" r="4.2" fill="#1f77b4"/>
<circle cx="1796.3" cy="227.8" r="4.2" fill="#1f77b4"/>
<circle cx="1790.2" cy="281.5" r="4.2" fill="#1f77b4"/>
<circle cx="1793.3" cy="294.6" r="4.2" fill="#1f77b4"/>
<line x1="1749.0" y1="303.3" x2="1998.2" y2="54.0" stroke="#000" stroke-width="6.2"/>
<line x1="1713.2" y1="36.15" x2="1713.2" y2="340.75" stroke="#2F5597" stroke-width="3.5"/>
<line x1="2014" y1="36.15" x2="2014" y2="340.75" stroke="#000" stroke-width="3.5"/>
<line x1="1711.45" y1="339" x2="2015.75" y2="339" stroke="#C55A11" stroke-width="3.5"/>
<line x1="1711.45" y1="37.9" x2="2015.75" y2="37.9" stroke="#000" stroke-width="3.5"/>
<text x="1684.5" y="323.9" font-family="Liberation Sans, sans-serif" font-size="28" fill="#2F5597" text-anchor="end">−250</text>
<text x="1737.0" y="386.6" font-family="Liberation Sans, sans-serif" font-size="28" fill="#C55A11" text-anchor="middle">−250</text>
<text x="1684.5" y="256.0" font-family="Liberation Sans, sans-serif" font-size="28" fill="#2F5597" text-anchor="end">0</text>
<text x="1805.2" y="386.6" font-family="Liberation Sans, sans-serif" font-size="28" fill="#C55A11" text-anchor="middle">0</text>
<text x="1684.5" y="188.1" font-family="Liberation Sans, sans-serif" font-size="28" fill="#2F5597" text-anchor="end">250</text>
<text x="1873.4" y="386.6" font-family="Liberation Sans, sans-serif" font-size="28" fill="#C55A11" text-anchor="middle">250</text>
<text x="1684.5" y="120.2" font-family="Liberation Sans, sans-serif" font-size="28" fill="#2F5597" text-anchor="end">500</text>
<text x="1941.6" y="386.6" font-family="Liberation Sans, sans-serif" font-size="28" fill="#C55A11" text-anchor="middle">500</text>
<text x="1684.5" y="52.3" font-family="Liberation Sans, sans-serif" font-size="28" fill="#2F5597" text-anchor="end">750</text>
<text x="2009.8" y="386.6" font-family="Liberation Sans, sans-serif" font-size="28" fill="#C55A11" text-anchor="middle">750</text>
<path d="M1699.2,313.7 L1713.2,313.7 M1699.2,245.8 L1713.2,245.8 M1699.2,177.9 L1713.2,177.9 M1699.2,110.0 L1713.2,110.0 M1699.2,42.1 L1713.2,42.1" stroke="#2F5597" stroke-width="3.3"/>
<path d="M1737.0,339 L1737.0,353 M1805.2,339 L1805.2,353 M1873.4,339 L1873.4,353 M1941.6,339 L1941.6,353 M2009.8,339 L2009.8,353" stroke="#C55A11" stroke-width="3.3"/>
<text y="433.9" fill="#C55A11" font-size="28.4" font-family="Liberation Sans, sans-serif"><tspan x="1736.9">Sequential (nA V</tspan><tspan x="1948.7" dy="-12" font-size="19.5">−</tspan><tspan x="1966.1" font-size="19.5">1</tspan><tspan x="1979.0" dy="12">)</tspan></text>
<g transform="translate(1594.6,295.3) rotate(-90)"><text y="0.0" fill="#2F5597" font-size="28.4" font-family="Liberation Sans, sans-serif"><tspan x="0.0">Parallel (nA V</tspan><tspan x="172.3" dy="-12" font-size="19.5">−</tspan><tspan x="189.7" font-size="19.5">1</tspan><tspan x="202.6" dy="12">)</tspan></text></g>
<text y="71.8" fill="#DA290E" font-size="28" font-family="Liberation Sans, sans-serif"><tspan x="1727.7" font-family="DejaVu Sans, sans-serif">Δ</tspan><tspan x="1747.7" font-family="DejaVu Serif, serif" font-style="italic" font-size="27">f</tspan><tspan x="1769.7">=</tspan><tspan x="1794.6">10</tspan><tspan x="1832.6">Hz</tspan></text>
<circle cx="1871.7" cy="625.7" r="4.2" fill="#1f77b4"/>
<circle cx="1880.4" cy="594.9" r="4.2" fill="#1f77b4"/>
<circle cx="1844.0" cy="658.5" r="4.2" fill="#1f77b4"/>
<circle cx="1897.1" cy="592.4" r="4.2" fill="#1f77b4"/>
<circle cx="1811.1" cy="673.5" r="4.2" fill="#1f77b4"/>
<circle cx="1810.6" cy="679.5" r="4.2" fill="#1f77b4"/>
<circle cx="1888.5" cy="604.4" r="4.2" fill="#1f77b4"/>
<circle cx="1801.6" cy="687.7" r="4.2" fill="#1f77b4"/>
<circle cx="1806.4" cy="695.1" r="4.2" fill="#1f77b4"/>
<circle cx="1811.5" cy="680.8" r="4.2" fill="#1f77b4"/>
<circle cx="1903.9" cy="584.9" r="4.2" fill="#1f77b4"/>
<circle cx="1871.4" cy="639.5" r="4.2" fill="#1f77b4"/>
<circle cx="1887.5" cy="597.9" r="4.2" fill="#1f77b4"/>
<circle cx="1812.6" cy="663.6" r="4.2" fill="#1f77b4"/>
<circle cx="1806.6" cy="686.7" r="4.2" fill="#1f77b4"/>
<circle cx="1855.1" cy="639.5" r="4.2" fill="#1f77b4"/>
<circle cx="1860.5" cy="628.5" r="4.2" fill="#1f77b4"/>
<circle cx="1843.3" cy="654.5" r="4.2" fill="#1f77b4"/>
<circle cx="1840.2" cy="651.3" r="4.2" fill="#1f77b4"/>
<circle cx="1896.7" cy="593.8" r="4.2" fill="#1f77b4"/>
<circle cx="1887.0" cy="618.5" r="4.2" fill="#1f77b4"/>
<circle cx="1852.0" cy="641.8" r="4.2" fill="#1f77b4"/>
<circle cx="1795.1" cy="701.3" r="4.2" fill="#1f77b4"/>
<circle cx="1879.2" cy="630.2" r="4.2" fill="#1f77b4"/>
<circle cx="1904.9" cy="584.5" r="4.2" fill="#1f77b4"/>
<circle cx="1875.8" cy="622.4" r="4.2" fill="#1f77b4"/>
<circle cx="1872.1" cy="624.7" r="4.2" fill="#1f77b4"/>
<circle cx="1884.4" cy="593.8" r="4.2" fill="#1f77b4"/>
<circle cx="1819.1" cy="660.9" r="4.2" fill="#1f77b4"/>
<circle cx="1883.8" cy="597.9" r="4.2" fill="#1f77b4"/>
<circle cx="1821.2" cy="669.2" r="4.2" fill="#1f77b4"/>
<circle cx="1805.5" cy="689.4" r="4.2" fill="#1f77b4"/>
<circle cx="1897.7" cy="596.0" r="4.2" fill="#1f77b4"/>
<circle cx="1903.4" cy="590.8" r="4.2" fill="#1f77b4"/>
<circle cx="1809.3" cy="673.7" r="4.2" fill="#1f77b4"/>
<circle cx="1830.2" cy="654.3" r="4.2" fill="#1f77b4"/>
<circle cx="1892.6" cy="608.5" r="4.2" fill="#1f77b4"/>
<circle cx="1802.7" cy="690.5" r="4.2" fill="#1f77b4"/>
<circle cx="1887.5" cy="596.0" r="4.2" fill="#1f77b4"/>
<circle cx="1830.7" cy="651.9" r="4.2" fill="#1f77b4"/>
<circle cx="1879.3" cy="610.8" r="4.2" fill="#1f77b4"/>
<circle cx="1908.8" cy="590.1" r="4.2" fill="#1f77b4"/>
<circle cx="1897.0" cy="585.9" r="4.2" fill="#1f77b4"/>
<circle cx="1820.1" cy="672.8" r="4.2" fill="#1f77b4"/>
<circle cx="1798.7" cy="683.0" r="4.2" fill="#1f77b4"/>
<circle cx="1909.7" cy="595.3" r="4.2" fill="#1f77b4"/>
<circle cx="1827.3" cy="669.6" r="4.2" fill="#1f77b4"/>
<circle cx="1884.5" cy="611.1" r="4.2" fill="#1f77b4"/>
<circle cx="1874.9" cy="619.3" r="4.2" fill="#1f77b4"/>
<circle cx="1865.4" cy="615.6" r="4.2" fill="#1f77b4"/>
<circle cx="1864.2" cy="626.5" r="4.2" fill="#1f77b4"/>
<circle cx="1867.8" cy="633.0" r="4.2" fill="#1f77b4"/>
<circle cx="1888.6" cy="598.1" r="4.2" fill="#1f77b4"/>
<circle cx="1843.8" cy="640.5" r="4.2" fill="#1f77b4"/>
<circle cx="1854.8" cy="624.2" r="4.2" fill="#1f77b4"/>
<circle cx="1876.9" cy="618.7" r="4.2" fill="#1f77b4"/>
<circle cx="1857.9" cy="633.4" r="4.2" fill="#1f77b4"/>
<circle cx="1873.2" cy="605.2" r="4.2" fill="#1f77b4"/>
<circle cx="1872.6" cy="638.3" r="4.2" fill="#1f77b4"/>
<circle cx="1844.5" cy="645.0" r="4.2" fill="#1f77b4"/>
<circle cx="1883.5" cy="616.8" r="4.2" fill="#1f77b4"/>
<circle cx="1865.1" cy="624.0" r="4.2" fill="#1f77b4"/>
<circle cx="1807.3" cy="686.1" r="4.2" fill="#1f77b4"/>
<circle cx="1829.1" cy="653.4" r="4.2" fill="#1f77b4"/>
<circle cx="1868.9" cy="615.7" r="4.2" fill="#1f77b4"/>
<circle cx="1802.3" cy="683.7" r="4.2" fill="#1f77b4"/>
<circle cx="1860.2" cy="634.3" r="4.2" fill="#1f77b4"/>
<circle cx="1795.5" cy="702.7" r="4.2" fill="#1f77b4"/>
<circle cx="1814.1" cy="681.0" r="4.2" fill="#1f77b4"/>
<circle cx="1808.2" cy="684.9" r="4.2" fill="#1f77b4"/>
<circle cx="1789.8" cy="698.4" r="4.2" fill="#1f77b4"/>
<circle cx="1853.3" cy="640.6" r="4.2" fill="#1f77b4"/>
<circle cx="1890.7" cy="609.4" r="4.2" fill="#1f77b4"/>
<circle cx="1832.8" cy="659.5" r="4.2" fill="#1f77b4"/>
<circle cx="1878.3" cy="612.7" r="4.2" fill="#1f77b4"/>
<circle cx="1798.6" cy="694.3" r="4.2" fill="#1f77b4"/>
<circle cx="1817.3" cy="659.4" r="4.2" fill="#1f77b4"/>
<circle cx="1829.2" cy="653.9" r="4.2" fill="#1f77b4"/>
<circle cx="1856.8" cy="632.7" r="4.2" fill="#1f77b4"/>
<circle cx="1851.2" cy="644.2" r="4.2" fill="#1f77b4"/>
<circle cx="1904.6" cy="583.7" r="4.2" fill="#1f77b4"/>
<circle cx="1786.7" cy="702.9" r="4.2" fill="#1f77b4"/>
<circle cx="1848.3" cy="640.9" r="4.2" fill="#1f77b4"/>
<circle cx="1884.2" cy="605.5" r="4.2" fill="#1f77b4"/>
<circle cx="1835.6" cy="657.5" r="4.2" fill="#1f77b4"/>
<circle cx="1903.6" cy="593.9" r="4.2" fill="#1f77b4"/>
<circle cx="1904.3" cy="584.4" r="4.2" fill="#1f77b4"/>
<circle cx="1900.9" cy="589.0" r="4.2" fill="#1f77b4"/>
<circle cx="1826.8" cy="673.3" r="4.2" fill="#1f77b4"/>
<circle cx="1839.7" cy="651.7" r="4.2" fill="#1f77b4"/>
<circle cx="1853.1" cy="633.4" r="4.2" fill="#1f77b4"/>
<circle cx="1879.6" cy="615.0" r="4.2" fill="#1f77b4"/>
<circle cx="1844.9" cy="644.8" r="4.2" fill="#1f77b4"/>
<circle cx="1821.7" cy="684.3" r="4.2" fill="#1f77b4"/>
<circle cx="1806.9" cy="689.4" r="4.2" fill="#1f77b4"/>
<circle cx="1839.7" cy="652.2" r="4.2" fill="#1f77b4"/>
<circle cx="1854.0" cy="638.2" r="4.2" fill="#1f77b4"/>
<circle cx="1819.1" cy="669.7" r="4.2" fill="#1f77b4"/>
<circle cx="1823.4" cy="666.3" r="4.2" fill="#1f77b4"/>
<circle cx="1831.7" cy="669.1" r="4.2" fill="#1f77b4"/>
<circle cx="1855.4" cy="642.5" r="4.2" fill="#1f77b4"/>
<circle cx="1889.0" cy="604.8" r="4.2" fill="#1f77b4"/>
<circle cx="1854.1" cy="651.1" r="4.2" fill="#1f77b4"/>
<circle cx="1851.5" cy="642.0" r="4.2" fill="#1f77b4"/>
<circle cx="1848.9" cy="627.0" r="4.2" fill="#1f77b4"/>
<circle cx="1831.7" cy="662.4" r="4.2" fill="#1f77b4"/>
<circle cx="1807.9" cy="681.3" r="4.2" fill="#1f77b4"/>
<circle cx="1886.3" cy="619.7" r="4.2" fill="#1f77b4"/>
<circle cx="1833.8" cy="655.5" r="4.2" fill="#1f77b4"/>
<circle cx="1903.9" cy="598.8" r="4.2" fill="#1f77b4"/>
<circle cx="1844.7" cy="640.9" r="4.2" fill="#1f77b4"/>
<circle cx="1852.1" cy="640.3" r="4.2" fill="#1f77b4"/>
<circle cx="1795.8" cy="697.2" r="4.2" fill="#1f77b4"/>
<circle cx="1867.5" cy="638.6" r="4.2" fill="#1f77b4"/>
<circle cx="1880.3" cy="638.6" r="4.2" fill="#1f77b4"/>
<circle cx="1792.2" cy="697.9" r="4.2" fill="#1f77b4"/>
<circle cx="1807.6" cy="676.0" r="4.2" fill="#1f77b4"/>
<circle cx="1797.9" cy="684.9" r="4.2" fill="#1f77b4"/>
<circle cx="1891.5" cy="607.0" r="4.2" fill="#1f77b4"/>
<circle cx="1808.3" cy="689.4" r="4.2" fill="#1f77b4"/>
<circle cx="1794.2" cy="701.0" r="4.2" fill="#1f77b4"/>
<circle cx="1795.4" cy="699.2" r="4.2" fill="#1f77b4"/>
<circle cx="1870.7" cy="624.6" r="4.2" fill="#1f77b4"/>
<circle cx="1821.1" cy="668.6" r="4.2" fill="#1f77b4"/>
<circle cx="1844.9" cy="654.1" r="4.2" fill="#1f77b4"/>
<circle cx="1862.9" cy="626.7" r="4.2" fill="#1f77b4"/>
<circle cx="1848.8" cy="627.1" r="4.2" fill="#1f77b4"/>
<circle cx="1855.6" cy="636.1" r="4.2" fill="#1f77b4"/>
<circle cx="1848.2" cy="643.8" r="4.2" fill="#1f77b4"/>
<circle cx="1806.4" cy="693.6" r="4.2" fill="#1f77b4"/>
<circle cx="1828.3" cy="663.5" r="4.2" fill="#1f77b4"/>
<circle cx="1857.3" cy="630.4" r="4.2" fill="#1f77b4"/>
<circle cx="1862.7" cy="632.9" r="4.2" fill="#1f77b4"/>
<circle cx="1814.8" cy="679.0" r="4.2" fill="#1f77b4"/>
<circle cx="1837.5" cy="648.8" r="4.2" fill="#1f77b4"/>
<circle cx="1873.3" cy="631.0" r="4.2" fill="#1f77b4"/>
<circle cx="1807.9" cy="691.3" r="4.2" fill="#1f77b4"/>
<circle cx="1799.5" cy="690.5" r="4.2" fill="#1f77b4"/>
<circle cx="1904.5" cy="589.4" r="4.2" fill="#1f77b4"/>
<circle cx="1824.9" cy="663.7" r="4.2" fill="#1f77b4"/>
<circle cx="1821.9" cy="665.4" r="4.2" fill="#1f77b4"/>
<circle cx="1801.3" cy="687.9" r="4.2" fill="#1f77b4"/>
<circle cx="1860.2" cy="634.8" r="4.2" fill="#1f77b4"/>
<circle cx="1840.8" cy="644.0" r="4.2" fill="#1f77b4"/>
<circle cx="1850.5" cy="641.4" r="4.2" fill="#1f77b4"/>
<circle cx="1789.4" cy="698.5" r="4.2" fill="#1f77b4"/>
<circle cx="1794.0" cy="701.7" r="4.2" fill="#1f77b4"/>
<circle cx="1786.4" cy="702.7" r="4.2" fill="#1f77b4"/>
<circle cx="1882.5" cy="604.2" r="4.2" fill="#1f77b4"/>
<circle cx="1797.2" cy="691.8" r="4.2" fill="#1f77b4"/>
<circle cx="1803.5" cy="685.1" r="4.2" fill="#1f77b4"/>
<circle cx="1806.2" cy="689.3" r="4.2" fill="#1f77b4"/>
<circle cx="1819.6" cy="675.3" r="4.2" fill="#1f77b4"/>
<circle cx="1843.3" cy="654.2" r="4.2" fill="#1f77b4"/>
<circle cx="1883.2" cy="597.3" r="4.2" fill="#1f77b4"/>
<circle cx="1868.2" cy="637.1" r="4.2" fill="#1f77b4"/>
<circle cx="1895.6" cy="605.1" r="4.2" fill="#1f77b4"/>
<circle cx="1865.5" cy="634.3" r="4.2" fill="#1f77b4"/>
<circle cx="1805.9" cy="686.6" r="4.2" fill="#1f77b4"/>
<circle cx="1796.8" cy="696.1" r="4.2" fill="#1f77b4"/>
<circle cx="1892.5" cy="595.8" r="4.2" fill="#1f77b4"/>
<circle cx="1821.0" cy="675.4" r="4.2" fill="#1f77b4"/>
<circle cx="1868.0" cy="627.3" r="4.2" fill="#1f77b4"/>
<circle cx="1893.3" cy="603.9" r="4.2" fill="#1f77b4"/>
<circle cx="1835.5" cy="657.6" r="4.2" fill="#1f77b4"/>
<circle cx="1873.2" cy="619.1" r="4.2" fill="#1f77b4"/>
<circle cx="1786.8" cy="693.4" r="4.2" fill="#1f77b4"/>
<circle cx="1823.0" cy="662.8" r="4.2" fill="#1f77b4"/>
<circle cx="1797.6" cy="698.4" r="4.2" fill="#1f77b4"/>
<circle cx="1895.9" cy="592.5" r="4.2" fill="#1f77b4"/>
<circle cx="1792.8" cy="698.1" r="4.2" fill="#1f77b4"/>
<circle cx="1833.3" cy="660.5" r="4.2" fill="#1f77b4"/>
<circle cx="1798.8" cy="704.0" r="4.2" fill="#1f77b4"/>
<circle cx="1845.9" cy="651.0" r="4.2" fill="#1f77b4"/>
<circle cx="1848.9" cy="649.0" r="4.2" fill="#1f77b4"/>
<circle cx="1848.9" cy="646.7" r="4.2" fill="#1f77b4"/>
<circle cx="1904.5" cy="590.6" r="4.2" fill="#1f77b4"/>
<circle cx="1845.0" cy="643.3" r="4.2" fill="#1f77b4"/>
<circle cx="1846.7" cy="638.1" r="4.2" fill="#1f77b4"/>
<circle cx="1891.6" cy="608.2" r="4.2" fill="#1f77b4"/>
<circle cx="1838.3" cy="656.4" r="4.2" fill="#1f77b4"/>
<circle cx="1819.9" cy="668.1" r="4.2" fill="#1f77b4"/>
<circle cx="1873.9" cy="621.3" r="4.2" fill="#1f77b4"/>
<circle cx="1795.2" cy="693.6" r="4.2" fill="#1f77b4"/>
<circle cx="1794.6" cy="692.5" r="4.2" fill="#1f77b4"/>
<circle cx="1795.7" cy="698.7" r="4.2" fill="#1f77b4"/>
<circle cx="1793.6" cy="699.5" r="4.2" fill="#1f77b4"/>
<circle cx="1800.3" cy="695.2" r="4.2" fill="#1f77b4"/>
<circle cx="1822.3" cy="670.0" r="4.2" fill="#1f77b4"/>
<circle cx="1854.8" cy="628.0" r="4.2" fill="#1f77b4"/>
<circle cx="1844.4" cy="635.0" r="4.2" fill="#1f77b4"/>
<circle cx="1895.0" cy="602.4" r="4.2" fill="#1f77b4"/>
<circle cx="1864.0" cy="626.9" r="4.2" fill="#1f77b4"/>
<circle cx="1806.4" cy="694.3" r="4.2" fill="#1f77b4"/>
<circle cx="1806.1" cy="685.4" r="4.2" fill="#1f77b4"/>
<circle cx="1797.9" cy="700.4" r="4.2" fill="#1f77b4"/>
<circle cx="1850.1" cy="644.6" r="4.2" fill="#1f77b4"/>
<circle cx="1827.2" cy="665.4" r="4.2" fill="#1f77b4"/>
<circle cx="1889.8" cy="598.5" r="4.2" fill="#1f77b4"/>
<circle cx="1825.8" cy="662.9" r="4.2" fill="#1f77b4"/>
<circle cx="1785.9" cy="699.5" r="4.2" fill="#1f77b4"/>
<circle cx="1796.2" cy="691.8" r="4.2" fill="#1f77b4"/>
<circle cx="1805.9" cy="684.8" r="4.2" fill="#1f77b4"/>
<circle cx="1901.9" cy="584.3" r="4.2" fill="#1f77b4"/>
<circle cx="1825.8" cy="672.9" r="4.2" fill="#1f77b4"/>
<circle cx="1834.1" cy="653.9" r="4.2" fill="#1f77b4"/>
<circle cx="1880.8" cy="592.3" r="4.2" fill="#1f77b4"/>
<circle cx="1798.0" cy="691.7" r="4.2" fill="#1f77b4"/>
<circle cx="1843.6" cy="668.2" r="4.2" fill="#1f77b4"/>
<circle cx="1854.4" cy="644.6" r="4.2" fill="#1f77b4"/>
<circle cx="1882.5" cy="605.9" r="4.2" fill="#1f77b4"/>
<circle cx="1811.1" cy="683.4" r="4.2" fill="#1f77b4"/>
<circle cx="1827.0" cy="665.3" r="4.2" fill="#1f77b4"/>
<circle cx="1812.8" cy="674.9" r="4.2" fill="#1f77b4"/>
<circle cx="1907.9" cy="589.5" r="4.2" fill="#1f77b4"/>
<circle cx="1800.8" cy="685.9" r="4.2" fill="#1f77b4"/>
<circle cx="1843.8" cy="652.9" r="4.2" fill="#1f77b4"/>
<circle cx="1867.1" cy="626.4" r="4.2" fill="#1f77b4"/>
<circle cx="1900.2" cy="593.9" r="4.2" fill="#1f77b4"/>
<circle cx="1879.3" cy="606.8" r="4.2" fill="#1f77b4"/>
<circle cx="1875.2" cy="616.4" r="4.2" fill="#1f77b4"/>
<circle cx="1852.5" cy="640.5" r="4.2" fill="#1f77b4"/>
<circle cx="1830.1" cy="661.4" r="4.2" fill="#1f77b4"/>
<circle cx="1830.6" cy="663.2" r="4.2" fill="#1f77b4"/>
<circle cx="1856.4" cy="618.8" r="4.2" fill="#1f77b4"/>
<circle cx="1895.4" cy="609.7" r="4.2" fill="#1f77b4"/>
<circle cx="1854.8" cy="624.5" r="4.2" fill="#1f77b4"/>
<circle cx="1851.4" cy="637.9" r="4.2" fill="#1f77b4"/>
<circle cx="1844.8" cy="646.9" r="4.2" fill="#1f77b4"/>
<circle cx="1828.3" cy="666.8" r="4.2" fill="#1f77b4"/>
<circle cx="1870.4" cy="620.6" r="4.2" fill="#1f77b4"/>
<circle cx="1897.6" cy="589.9" r="4.2" fill="#1f77b4"/>
<circle cx="1795.8" cy="696.4" r="4.2" fill="#1f77b4"/>
<circle cx="1901.6" cy="582.0" r="4.2" fill="#1f77b4"/>
<circle cx="1879.4" cy="612.3" r="4.2" fill="#1f77b4"/>
<circle cx="1839.3" cy="642.7" r="4.2" fill="#1f77b4"/>
<circle cx="1817.7" cy="681.8" r="4.2" fill="#1f77b4"/>
<circle cx="1787.7" cy="703.5" r="4.2" fill="#1f77b4"/>
<circle cx="1804.1" cy="681.6" r="4.2" fill="#1f77b4"/>
<circle cx="1898.1" cy="583.9" r="4.2" fill="#1f77b4"/>
<circle cx="1798.7" cy="691.3" r="4.2" fill="#1f77b4"/>
<circle cx="1824.5" cy="659.0" r="4.2" fill="#1f77b4"/>
<circle cx="1810.4" cy="680.2" r="4.2" fill="#1f77b4"/>
<circle cx="1889.0" cy="609.0" r="4.2" fill="#1f77b4"/>
<circle cx="1857.5" cy="635.4" r="4.2" fill="#1f77b4"/>
<circle cx="1847.2" cy="639.8" r="4.2" fill="#1f77b4"/>
<circle cx="1883.6" cy="607.8" r="4.2" fill="#1f77b4"/>
<circle cx="1842.0" cy="642.6" r="4.2" fill="#1f77b4"/>
<circle cx="1899.6" cy="591.4" r="4.2" fill="#1f77b4"/>
<circle cx="1903.3" cy="597.3" r="4.2" fill="#1f77b4"/>
<circle cx="1797.7" cy="688.7" r="4.2" fill="#1f77b4"/>
<circle cx="1807.3" cy="682.0" r="4.2" fill="#1f77b4"/>
<circle cx="1856.5" cy="631.4" r="4.2" fill="#1f77b4"/>
<circle cx="1835.3" cy="645.7" r="4.2" fill="#1f77b4"/>
<circle cx="1889.7" cy="596.7" r="4.2" fill="#1f77b4"/>
<circle cx="1896.1" cy="609.7" r="4.2" fill="#1f77b4"/>
<circle cx="1866.5" cy="630.4" r="4.2" fill="#1f77b4"/>
<circle cx="1806.5" cy="680.5" r="4.2" fill="#1f77b4"/>
<circle cx="1799.7" cy="695.8" r="4.2" fill="#1f77b4"/>
<circle cx="1875.2" cy="625.7" r="4.2" fill="#1f77b4"/>
<circle cx="1879.3" cy="617.0" r="4.2" fill="#1f77b4"/>
<circle cx="1902.2" cy="581.5" r="4.2" fill="#1f77b4"/>
<circle cx="1895.0" cy="600.2" r="4.2" fill="#1f77b4"/>
<circle cx="1811.2" cy="682.5" r="4.2" fill="#1f77b4"/>
<circle cx="1835.5" cy="651.5" r="4.2" fill="#1f77b4"/>
<circle cx="1826.4" cy="654.6" r="4.2" fill="#1f77b4"/>
<circle cx="1832.7" cy="667.0" r="4.2" fill="#1f77b4"/>
<circle cx="1866.2" cy="633.0" r="4.2" fill="#1f77b4"/>
<circle cx="1894.8" cy="600.5" r="4.2" fill="#1f77b4"/>
<circle cx="1866.4" cy="625.0" r="4.2" fill="#1f77b4"/>
<circle cx="1798.5" cy="689.4" r="4.2" fill="#1f77b4"/>
<circle cx="1889.0" cy="604.4" r="4.2" fill="#1f77b4"/>
<circle cx="1814.7" cy="667.5" r="4.2" fill="#1f77b4"/>
<circle cx="1851.0" cy="641.4" r="4.2" fill="#1f77b4"/>
<circle cx="1827.2" cy="669.9" r="4.2" fill="#1f77b4"/>
<circle cx="1830.3" cy="654.6" r="4.2" fill="#1f77b4"/>
<circle cx="1863.5" cy="634.1" r="4.2" fill="#1f77b4"/>
<circle cx="1841.5" cy="653.4" r="4.2" fill="#1f77b4"/>
<circle cx="1897.4" cy="584.6" r="4.2" fill="#1f77b4"/>
<circle cx="1832.4" cy="670.9" r="4.2" fill="#1f77b4"/>
<circle cx="1788.6" cy="703.9" r="4.2" fill="#1f77b4"/>
<circle cx="1812.5" cy="674.0" r="4.2" fill="#1f77b4"/>
<circle cx="1828.6" cy="661.2" r="4.2" fill="#1f77b4"/>
<circle cx="1894.5" cy="597.7" r="4.2" fill="#1f77b4"/>
<circle cx="1842.2" cy="655.3" r="4.2" fill="#1f77b4"/>
<circle cx="1905.3" cy="589.7" r="4.2" fill="#1f77b4"/>
<circle cx="1790.8" cy="695.6" r="4.2" fill="#1f77b4"/>
<circle cx="1857.0" cy="643.5" r="4.2" fill="#1f77b4"/>
<circle cx="1903.1" cy="588.4" r="4.2" fill="#1f77b4"/>
<circle cx="1871.4" cy="619.4" r="4.2" fill="#1f77b4"/>
<circle cx="1887.5" cy="612.6" r="4.2" fill="#1f77b4"/>
<circle cx="1890.0" cy="587.7" r="4.2" fill="#1f77b4"/>
<circle cx="1889.5" cy="610.7" r="4.2" fill="#1f77b4"/>
<circle cx="1899.7" cy="603.3" r="4.2" fill="#1f77b4"/>
<circle cx="1897.5" cy="590.9" r="4.2" fill="#1f77b4"/>
<circle cx="1820.5" cy="674.2" r="4.2" fill="#1f77b4"/>
<circle cx="1802.6" cy="692.0" r="4.2" fill="#1f77b4"/>
<circle cx="1833.2" cy="666.2" r="4.2" fill="#1f77b4"/>
<circle cx="1885.1" cy="607.8" r="4.2" fill="#1f77b4"/>
<circle cx="1893.9" cy="600.0" r="4.2" fill="#1f77b4"/>
<circle cx="1803.2" cy="689.8" r="4.2" fill="#1f77b4"/>
<circle cx="1904.5" cy="601.5" r="4.2" fill="#1f77b4"/>
<circle cx="1834.2" cy="656.7" r="4.2" fill="#1f77b4"/>
<circle cx="1879.1" cy="625.8" r="4.2" fill="#1f77b4"/>
<circle cx="1850.4" cy="653.4" r="4.2" fill="#1f77b4"/>
<circle cx="1799.4" cy="691.6" r="4.2" fill="#1f77b4"/>
<circle cx="1826.1" cy="660.4" r="4.2" fill="#1f77b4"/>
<circle cx="1896.9" cy="601.9" r="4.2" fill="#1f77b4"/>
<circle cx="1849.8" cy="641.7" r="4.2" fill="#1f77b4"/>
<circle cx="1805.4" cy="692.6" r="4.2" fill="#1f77b4"/>
<circle cx="1871.6" cy="633.6" r="4.2" fill="#1f77b4"/>
<circle cx="1843.4" cy="649.5" r="4.2" fill="#1f77b4"/>
<circle cx="1878.9" cy="621.8" r="4.2" fill="#1f77b4"/>
<circle cx="1831.6" cy="663.7" r="4.2" fill="#1f77b4"/>
<circle cx="1789.5" cy="701.2" r="4.2" fill="#1f77b4"/>
<circle cx="1893.2" cy="607.2" r="4.2" fill="#1f77b4"/>
<circle cx="1843.9" cy="644.3" r="4.2" fill="#1f77b4"/>
<circle cx="1900.1" cy="578.8" r="4.2" fill="#1f77b4"/>
<circle cx="1807.0" cy="687.0" r="4.2" fill="#1f77b4"/>
<circle cx="1867.9" cy="623.2" r="4.2" fill="#1f77b4"/>
<circle cx="1833.3" cy="664.6" r="4.2" fill="#1f77b4"/>
<circle cx="1877.4" cy="612.2" r="4.2" fill="#1f77b4"/>
<circle cx="1821.7" cy="661.3" r="4.2" fill="#1f77b4"/>
<circle cx="1837.8" cy="654.8" r="4.2" fill="#1f77b4"/>
<circle cx="1796.8" cy="694.0" r="4.2" fill="#1f77b4"/>
<circle cx="1901.4" cy="593.9" r="4.2" fill="#1f77b4"/>
<circle cx="1873.6" cy="618.5" r="4.2" fill="#1f77b4"/>
<circle cx="1853.5" cy="633.0" r="4.2" fill="#1f77b4"/>
<circle cx="1856.9" cy="635.6" r="4.2" fill="#1f77b4"/>
<circle cx="1838.9" cy="659.3" r="4.2" fill="#1f77b4"/>
<circle cx="1807.8" cy="685.5" r="4.2" fill="#1f77b4"/>
<circle cx="1850.3" cy="643.9" r="4.2" fill="#1f77b4"/>
<circle cx="1793.6" cy="700.6" r="4.2" fill="#1f77b4"/>
<circle cx="1790.0" cy="697.7" r="4.2" fill="#1f77b4"/>
<circle cx="1800.1" cy="690.8" r="4.2" fill="#1f77b4"/>
<circle cx="1808.2" cy="676.2" r="4.2" fill="#1f77b4"/>
<circle cx="1902.7" cy="598.2" r="4.2" fill="#1f77b4"/>
<circle cx="1796.4" cy="698.1" r="4.2" fill="#1f77b4"/>
<circle cx="1863.6" cy="638.0" r="4.2" fill="#1f77b4"/>
<circle cx="1854.6" cy="630.2" r="4.2" fill="#1f77b4"/>
<circle cx="1801.1" cy="691.1" r="4.2" fill="#1f77b4"/>
<circle cx="1786.4" cy="702.5" r="4.2" fill="#1f77b4"/>
<circle cx="1847.8" cy="651.3" r="4.2" fill="#1f77b4"/>
<circle cx="1809.7" cy="678.8" r="4.2" fill="#1f77b4"/>
<circle cx="1892.1" cy="601.3" r="4.2" fill="#1f77b4"/>
<circle cx="1797.3" cy="696.4" r="4.2" fill="#1f77b4"/>
<circle cx="1854.6" cy="635.0" r="4.2" fill="#1f77b4"/>
<circle cx="1839.8" cy="648.7" r="4.2" fill="#1f77b4"/>
<circle cx="1829.5" cy="648.0" r="4.2" fill="#1f77b4"/>
<circle cx="1814.1" cy="671.9" r="4.2" fill="#1f77b4"/>
<circle cx="1850.5" cy="649.5" r="4.2" fill="#1f77b4"/>
<circle cx="1831.0" cy="655.6" r="4.2" fill="#1f77b4"/>
<circle cx="1879.0" cy="612.5" r="4.2" fill="#1f77b4"/>
<circle cx="1828.7" cy="666.8" r="4.2" fill="#1f77b4"/>
<circle cx="1813.8" cy="672.3" r="4.2" fill="#1f77b4"/>
<circle cx="1895.5" cy="590.8" r="4.2" fill="#1f77b4"/>
<circle cx="1828.7" cy="671.4" r="4.2" fill="#1f77b4"/>
<circle cx="1854.9" cy="643.8" r="4.2" fill="#1f77b4"/>
<circle cx="1890.4" cy="594.1" r="4.2" fill="#1f77b4"/>
<circle cx="1819.3" cy="678.7" r="4.2" fill="#1f77b4"/>
<circle cx="1825.0" cy="669.3" r="4.2" fill="#1f77b4"/>
<circle cx="1833.6" cy="660.2" r="4.2" fill="#1f77b4"/>
<circle cx="1794.3" cy="697.0" r="4.2" fill="#1f77b4"/>
<circle cx="1906.8" cy="589.3" r="4.2" fill="#1f77b4"/>
<circle cx="1846.4" cy="652.0" r="4.2" fill="#1f77b4"/>
<circle cx="1792.1" cy="702.6" r="4.2" fill="#1f77b4"/>
<circle cx="1822.7" cy="675.6" r="4.2" fill="#1f77b4"/>
<circle cx="1908.8" cy="588.3" r="4.2" fill="#1f77b4"/>
<circle cx="1799.2" cy="693.1" r="4.2" fill="#1f77b4"/>
<circle cx="1796.0" cy="694.1" r="4.2" fill="#1f77b4"/>
<circle cx="1900.5" cy="587.7" r="4.2" fill="#1f77b4"/>
<circle cx="1895.7" cy="599.1" r="4.2" fill="#1f77b4"/>
<circle cx="1804.5" cy="675.1" r="4.2" fill="#1f77b4"/>
<circle cx="1856.6" cy="634.2" r="4.2" fill="#1f77b4"/>
<circle cx="1902.0" cy="593.3" r="4.2" fill="#1f77b4"/>
<circle cx="1791.3" cy="696.0" r="4.2" fill="#1f77b4"/>
<circle cx="1895.7" cy="584.3" r="4.2" fill="#1f77b4"/>
<circle cx="1845.6" cy="652.5" r="4.2" fill="#1f77b4"/>
<circle cx="1869.3" cy="622.8" r="4.2" fill="#1f77b4"/>
<circle cx="1858.4" cy="642.4" r="4.2" fill="#1f77b4"/>
<circle cx="1808.5" cy="680.6" r="4.2" fill="#1f77b4"/>
<circle cx="1891.5" cy="589.6" r="4.2" fill="#1f77b4"/>
<circle cx="1808.6" cy="688.3" r="4.2" fill="#1f77b4"/>
<circle cx="1884.0" cy="612.8" r="4.2" fill="#1f77b4"/>
<circle cx="1868.3" cy="631.8" r="4.2" fill="#1f77b4"/>
<circle cx="1829.8" cy="668.2" r="4.2" fill="#1f77b4"/>
<circle cx="1871.4" cy="630.1" r="4.2" fill="#1f77b4"/>
<circle cx="1857.1" cy="644.0" r="4.2" fill="#1f77b4"/>
<circle cx="1847.3" cy="656.8" r="4.2" fill="#1f77b4"/>
<circle cx="1818.8" cy="662.2" r="4.2" fill="#1f77b4"/>
<circle cx="1800.2" cy="687.6" r="4.2" fill="#1f77b4"/>
<circle cx="1900.2" cy="595.3" r="4.2" fill="#1f77b4"/>
<circle cx="1870.8" cy="621.5" r="4.2" fill="#1f77b4"/>
<circle cx="1900.3" cy="591.9" r="4.2" fill="#1f77b4"/>
<circle cx="1854.1" cy="625.7" r="4.2" fill="#1f77b4"/>
<circle cx="1828.3" cy="670.3" r="4.2" fill="#1f77b4"/>
<circle cx="1842.0" cy="647.8" r="4.2" fill="#1f77b4"/>
<circle cx="1801.9" cy="683.5" r="4.2" fill="#1f77b4"/>
<circle cx="1788.9" cy="705.0" r="4.2" fill="#1f77b4"/>
<circle cx="1789.1" cy="696.1" r="4.2" fill="#1f77b4"/>
<circle cx="1842.1" cy="653.8" r="4.2" fill="#1f77b4"/>
<circle cx="1907.0" cy="588.3" r="4.2" fill="#1f77b4"/>
<circle cx="1876.6" cy="611.5" r="4.2" fill="#1f77b4"/>
<circle cx="1810.6" cy="676.9" r="4.2" fill="#1f77b4"/>
<circle cx="1787.4" cy="701.6" r="4.2" fill="#1f77b4"/>
<circle cx="1838.9" cy="645.1" r="4.2" fill="#1f77b4"/>
<circle cx="1821.1" cy="670.5" r="4.2" fill="#1f77b4"/>
<circle cx="1867.3" cy="617.9" r="4.2" fill="#1f77b4"/>
<circle cx="1865.8" cy="632.0" r="4.2" fill="#1f77b4"/>
<circle cx="1804.7" cy="688.8" r="4.2" fill="#1f77b4"/>
<circle cx="1789.5" cy="702.7" r="4.2" fill="#1f77b4"/>
<circle cx="1834.1" cy="654.6" r="4.2" fill="#1f77b4"/>
<circle cx="1839.3" cy="651.3" r="4.2" fill="#1f77b4"/>
<circle cx="1871.9" cy="620.3" r="4.2" fill="#1f77b4"/>
<circle cx="1874.9" cy="608.6" r="4.2" fill="#1f77b4"/>
<circle cx="1851.6" cy="632.9" r="4.2" fill="#1f77b4"/>
<circle cx="1887.3" cy="610.1" r="4.2" fill="#1f77b4"/>
<circle cx="1824.9" cy="666.9" r="4.2" fill="#1f77b4"/>
<circle cx="1830.5" cy="666.1" r="4.2" fill="#1f77b4"/>
<circle cx="1836.2" cy="658.8" r="4.2" fill="#1f77b4"/>
<circle cx="1866.0" cy="622.9" r="4.2" fill="#1f77b4"/>
<circle cx="1907.2" cy="587.7" r="4.2" fill="#1f77b4"/>
<circle cx="1809.1" cy="678.0" r="4.2" fill="#1f77b4"/>
<circle cx="1792.0" cy="702.6" r="4.2" fill="#1f77b4"/>
<circle cx="1869.4" cy="617.8" r="4.2" fill="#1f77b4"/>
<circle cx="1864.5" cy="614.0" r="4.2" fill="#1f77b4"/>
<circle cx="1889.4" cy="605.1" r="4.2" fill="#1f77b4"/>
<circle cx="1856.3" cy="628.6" r="4.2" fill="#1f77b4"/>
<circle cx="1863.8" cy="624.0" r="4.2" fill="#1f77b4"/>
<circle cx="1816.0" cy="677.6" r="4.2" fill="#1f77b4"/>
<circle cx="1873.8" cy="621.9" r="4.2" fill="#1f77b4"/>
<circle cx="1832.2" cy="668.5" r="4.2" fill="#1f77b4"/>
<circle cx="1852.9" cy="636.7" r="4.2" fill="#1f77b4"/>
<circle cx="1789.4" cy="704.3" r="4.2" fill="#1f77b4"/>
<circle cx="1834.8" cy="658.1" r="4.2" fill="#1f77b4"/>
<circle cx="1893.1" cy="599.9" r="4.2" fill="#1f77b4"/>
<circle cx="1824.8" cy="669.9" r="4.2" fill="#1f77b4"/>
<circle cx="1788.2" cy="703.1" r="4.2" fill="#1f77b4"/>
<circle cx="1854.0" cy="638.7" r="4.2" fill="#1f77b4"/>
<circle cx="1833.0" cy="650.7" r="4.2" fill="#1f77b4"/>
<circle cx="1901.5" cy="587.5" r="4.2" fill="#1f77b4"/>
<circle cx="1835.6" cy="655.6" r="4.2" fill="#1f77b4"/>
<circle cx="1811.5" cy="677.7" r="4.2" fill="#1f77b4"/>
<circle cx="1853.3" cy="652.2" r="4.2" fill="#1f77b4"/>
<circle cx="1859.4" cy="630.2" r="4.2" fill="#1f77b4"/>
<circle cx="1831.6" cy="658.8" r="4.2" fill="#1f77b4"/>
<circle cx="1882.3" cy="611.3" r="4.2" fill="#1f77b4"/>
<circle cx="1799.4" cy="688.8" r="4.2" fill="#1f77b4"/>
<circle cx="1793.9" cy="692.3" r="4.2" fill="#1f77b4"/>
<circle cx="1788.7" cy="696.2" r="4.2" fill="#1f77b4"/>
<circle cx="1837.3" cy="650.9" r="4.2" fill="#1f77b4"/>
<circle cx="1837.9" cy="655.9" r="4.2" fill="#1f77b4"/>
<circle cx="1861.9" cy="630.7" r="4.2" fill="#1f77b4"/>
<circle cx="1823.8" cy="673.9" r="4.2" fill="#1f77b4"/>
<circle cx="1902.5" cy="594.5" r="4.2" fill="#1f77b4"/>
<circle cx="1899.9" cy="595.8" r="4.2" fill="#1f77b4"/>
<circle cx="1809.5" cy="680.1" r="4.2" fill="#1f77b4"/>
<circle cx="1878.6" cy="606.3" r="4.2" fill="#1f77b4"/>
<circle cx="1855.8" cy="622.0" r="4.2" fill="#1f77b4"/>
<circle cx="1814.5" cy="681.0" r="4.2" fill="#1f77b4"/>
<circle cx="1818.4" cy="677.0" r="4.2" fill="#1f77b4"/>
<circle cx="1839.4" cy="644.9" r="4.2" fill="#1f77b4"/>
<circle cx="1845.1" cy="636.8" r="4.2" fill="#1f77b4"/>
<circle cx="1833.9" cy="661.6" r="4.2" fill="#1f77b4"/>
<circle cx="1797.8" cy="685.3" r="4.2" fill="#1f77b4"/>
<circle cx="1830.7" cy="667.2" r="4.2" fill="#1f77b4"/>
<circle cx="1854.4" cy="641.6" r="4.2" fill="#1f77b4"/>
<circle cx="1794.4" cy="701.7" r="4.2" fill="#1f77b4"/>
<circle cx="1871.8" cy="622.9" r="4.2" fill="#1f77b4"/>
<circle cx="1855.7" cy="635.0" r="4.2" fill="#1f77b4"/>
<circle cx="1863.9" cy="636.6" r="4.2" fill="#1f77b4"/>
<circle cx="1825.1" cy="668.8" r="4.2" fill="#1f77b4"/>
<circle cx="1848.1" cy="652.9" r="4.2" fill="#1f77b4"/>
<circle cx="1875.0" cy="606.0" r="4.2" fill="#1f77b4"/>
<circle cx="1837.6" cy="650.2" r="4.2" fill="#1f77b4"/>
<circle cx="1889.7" cy="612.3" r="4.2" fill="#1f77b4"/>
<circle cx="1882.1" cy="627.0" r="4.2" fill="#1f77b4"/>
<circle cx="1878.7" cy="607.5" r="4.2" fill="#1f77b4"/>
<circle cx="1898.7" cy="593.7" r="4.2" fill="#1f77b4"/>
<circle cx="1813.2" cy="668.7" r="4.2" fill="#1f77b4"/>
<circle cx="1836.4" cy="662.7" r="4.2" fill="#1f77b4"/>
<circle cx="1854.2" cy="635.0" r="4.2" fill="#1f77b4"/>
<circle cx="1852.2" cy="634.3" r="4.2" fill="#1f77b4"/>
<circle cx="1878.4" cy="615.7" r="4.2" fill="#1f77b4"/>
<circle cx="1810.6" cy="673.7" r="4.2" fill="#1f77b4"/>
<circle cx="1886.6" cy="605.9" r="4.2" fill="#1f77b4"/>
<circle cx="1819.0" cy="668.3" r="4.2" fill="#1f77b4"/>
<circle cx="1894.6" cy="606.6" r="4.2" fill="#1f77b4"/>
<circle cx="1841.9" cy="649.0" r="4.2" fill="#1f77b4"/>
<circle cx="1815.9" cy="683.2" r="4.2" fill="#1f77b4"/>
<circle cx="1905.6" cy="588.1" r="4.2" fill="#1f77b4"/>
<circle cx="1803.7" cy="693.4" r="4.2" fill="#1f77b4"/>
<circle cx="1894.7" cy="595.7" r="4.2" fill="#1f77b4"/>
<circle cx="1801.4" cy="693.8" r="4.2" fill="#1f77b4"/>
<circle cx="1909.6" cy="593.0" r="4.2" fill="#1f77b4"/>
<circle cx="1813.0" cy="673.6" r="4.2" fill="#1f77b4"/>
<circle cx="1819.2" cy="676.5" r="4.2" fill="#1f77b4"/>
<circle cx="1842.6" cy="651.5" r="4.2" fill="#1f77b4"/>
<circle cx="1825.0" cy="674.8" r="4.2" fill="#1f77b4"/>
<circle cx="1862.1" cy="618.4" r="4.2" fill="#1f77b4"/>
<circle cx="1899.9" cy="586.8" r="4.2" fill="#1f77b4"/>
<circle cx="1793.6" cy="702.0" r="4.2" fill="#1f77b4"/>
<circle cx="1839.1" cy="655.4" r="4.2" fill="#1f77b4"/>
<circle cx="1829.2" cy="665.1" r="4.2" fill="#1f77b4"/>
<circle cx="1904.7" cy="593.0" r="4.2" fill="#1f77b4"/>
<circle cx="1818.3" cy="664.2" r="4.2" fill="#1f77b4"/>
<circle cx="1818.2" cy="665.1" r="4.2" fill="#1f77b4"/>
<circle cx="1815.4" cy="667.2" r="4.2" fill="#1f77b4"/>
<circle cx="1787.5" cy="702.0" r="4.2" fill="#1f77b4"/>
<circle cx="1819.7" cy="670.0" r="4.2" fill="#1f77b4"/>
<circle cx="1808.4" cy="679.9" r="4.2" fill="#1f77b4"/>
<circle cx="1863.7" cy="620.2" r="4.2" fill="#1f77b4"/>
<circle cx="1892.5" cy="607.3" r="4.2" fill="#1f77b4"/>
<circle cx="1871.6" cy="627.7" r="4.2" fill="#1f77b4"/>
<circle cx="1879.4" cy="605.1" r="4.2" fill="#1f77b4"/>
<circle cx="1805.3" cy="680.9" r="4.2" fill="#1f77b4"/>
<circle cx="1852.7" cy="649.8" r="4.2" fill="#1f77b4"/>
<circle cx="1843.4" cy="655.8" r="4.2" fill="#1f77b4"/>
<circle cx="1878.3" cy="611.1" r="4.2" fill="#1f77b4"/>
<circle cx="1864.2" cy="637.2" r="4.2" fill="#1f77b4"/>
<circle cx="1917.0" cy="561.4" r="4.2" fill="#1f77b4"/>
<circle cx="1911.9" cy="568.0" r="4.2" fill="#1f77b4"/>
<circle cx="1907.5" cy="576.0" r="4.2" fill="#1f77b4"/>
<circle cx="1902.4" cy="581.2" r="4.2" fill="#1f77b4"/>
<circle cx="1888.5" cy="583.4" r="4.2" fill="#1f77b4"/>
<circle cx="1935.4" cy="560.0" r="4.2" fill="#1f77b4"/>
<circle cx="1925.8" cy="580.5" r="4.2" fill="#1f77b4"/>
<circle cx="1931.0" cy="576.8" r="4.2" fill="#1f77b4"/>
<circle cx="1903.9" cy="595.0" r="4.2" fill="#1f77b4"/>
<circle cx="1895.8" cy="603.9" r="4.2" fill="#1f77b4"/>
<circle cx="1902.4" cy="609.7" r="4.2" fill="#1f77b4"/>
<circle cx="1914.9" cy="614.1" r="4.2" fill="#1f77b4"/>
<circle cx="1941.2" cy="534.4" r="4.2" fill="#1f77b4"/>
<circle cx="1941.9" cy="538.0" r="4.2" fill="#1f77b4"/>
<circle cx="1963.8" cy="520.5" r="4.2" fill="#1f77b4"/>
<circle cx="1964.1" cy="520.4" r="4.2" fill="#1f77b4"/>
<circle cx="1940.7" cy="533.6" r="4.2" fill="#1f77b4"/>
<circle cx="1942.2" cy="538.0" r="4.2" fill="#1f77b4"/>
<circle cx="1934.9" cy="560.0" r="4.2" fill="#1f77b4"/>
<circle cx="1917.3" cy="561.4" r="4.2" fill="#1f77b4"/>
<circle cx="1930.5" cy="577.5" r="4.2" fill="#1f77b4"/>
<circle cx="1924.7" cy="580.4" r="4.2" fill="#1f77b4"/>
<circle cx="1914.4" cy="614.0" r="4.2" fill="#1f77b4"/>
<circle cx="1902.7" cy="609.6" r="4.2" fill="#1f77b4"/>
<circle cx="1818.1" cy="652.0" r="4.2" fill="#1f77b4"/>
<circle cx="1861.2" cy="653.2" r="4.2" fill="#1f77b4"/>
<circle cx="1860.0" cy="667.5" r="4.2" fill="#1f77b4"/>
<circle cx="1869.3" cy="682.4" r="4.2" fill="#1f77b4"/>
<circle cx="1842.3" cy="670.1" r="4.2" fill="#1f77b4"/>
<circle cx="1854.4" cy="612.0" r="4.2" fill="#1f77b4"/>
<circle cx="1806.8" cy="664.3" r="4.2" fill="#1f77b4"/>
<circle cx="1888.2" cy="583.6" r="4.2" fill="#1f77b4"/>
<line x1="1750.2" y1="741.1" x2="1999.4" y2="491.9" stroke="#000" stroke-width="6.2"/>
<line x1="1714.4" y1="473.95" x2="1714.4" y2="778.55" stroke="#2F5597" stroke-width="3.5"/>
<line x1="2015.2" y1="473.95" x2="2015.2" y2="778.55" stroke="#000" stroke-width="3.5"/>
<line x1="1712.65" y1="776.8" x2="2016.95" y2="776.8" stroke="#C55A11" stroke-width="3.5"/>
<line x1="1712.65" y1="475.7" x2="2016.95" y2="475.7" stroke="#000" stroke-width="3.5"/>
<text x="1685.7" y="761.7" font-family="Liberation Sans, sans-serif" font-size="28" fill="#2F5597" text-anchor="end">−250</text>
<text x="1738.2" y="824.4" font-family="Liberation Sans, sans-serif" font-size="28" fill="#C55A11" text-anchor="middle">−250</text>
<text x="1685.7" y="693.8" font-family="Liberation Sans, sans-serif" font-size="28" fill="#2F5597" text-anchor="end">0</text>
<text x="1806.4" y="824.4" font-family="Liberation Sans, sans-serif" font-size="28" fill="#C55A11" text-anchor="middle">0</text>
<text x="1685.7" y="625.9" font-family="Liberation Sans, sans-serif" font-size="28" fill="#2F5597" text-anchor="end">250</text>
<text x="1874.6" y="824.4" font-family="Liberation Sans, sans-serif" font-size="28" fill="#C55A11" text-anchor="middle">250</text>
<text x="1685.7" y="558.0" font-family="Liberation Sans, sans-serif" font-size="28" fill="#2F5597" text-anchor="end">500</text>
<text x="1942.8" y="824.4" font-family="Liberation Sans, sans-serif" font-size="28" fill="#C55A11" text-anchor="middle">500</text>
<text x="1685.7" y="490.1" font-family="Liberation Sans, sans-serif" font-size="28" fill="#2F5597" text-anchor="end">750</text>
<text x="2011.0" y="824.4" font-family="Liberation Sans, sans-serif" font-size="28" fill="#C55A11" text-anchor="middle">750</text>
<path d="M1700.4,751.5 L1714.4,751.5 M1700.4,683.6 L1714.4,683.6 M1700.4,615.7 L1714.4,615.7 M1700.4,547.8 L1714.4,547.8 M1700.4,479.9 L1714.4,479.9" stroke="#2F5597" stroke-width="3.3"/>
<path d="M1738.2,776.8 L1738.2,790.8 M1806.4,776.8 L1806.4,790.8 M1874.6,776.8 L1874.6,790.8 M1942.8,776.8 L1942.8,790.8 M2011.0,776.8 L2011.0,790.8" stroke="#C55A11" stroke-width="3.3"/>
<text y="871.7" fill="#C55A11" font-size="28.4" font-family="Liberation Sans, sans-serif"><tspan x="1738.1">Sequential (nA V</tspan><tspan x="1949.9" dy="-12" font-size="19.5">−</tspan><tspan x="1967.3" font-size="19.5">1</tspan><tspan x="1980.2" dy="12">)</tspan></text>
<g transform="translate(1595.8,733.1) rotate(-90)"><text y="0.0" fill="#2F5597" font-size="28.4" font-family="Liberation Sans, sans-serif"><tspan x="0.0">Parallel (nA V</tspan><tspan x="172.3" dy="-12" font-size="19.5">−</tspan><tspan x="189.7" font-size="19.5">1</tspan><tspan x="202.6" dy="12">)</tspan></text></g>
<text y="509.6" fill="#6AAB46" font-size="28" font-family="Liberation Sans, sans-serif"><tspan x="1728.9" font-family="DejaVu Sans, sans-serif">Δ</tspan><tspan x="1748.9" font-family="DejaVu Serif, serif" font-style="italic" font-size="27">f</tspan><tspan x="1770.9">=</tspan><tspan x="1795.8">40</tspan><tspan x="1833.8">Hz</tspan></text>
</svg>
</body></html>
